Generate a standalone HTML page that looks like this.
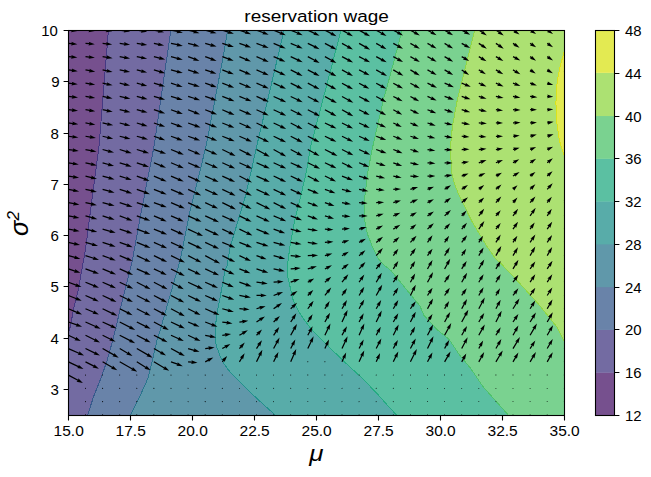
<!DOCTYPE html>
<html><head><meta charset="utf-8"><style>html,body{margin:0;padding:0;background:#fff;overflow:hidden}svg{display:block}</style></head><body>
<svg width="651" height="477" viewBox="0 0 651 477">
<defs><clipPath id="ax"><rect x="68.40" y="30.40" width="495.90" height="384.80"/></clipPath></defs>
<rect width="651" height="477" fill="#fff"/>
<g clip-path="url(#ax)">
<rect x="68.40" y="30.40" width="495.90" height="384.80" fill="#76508e"/>
<polygon points="108.40,30.40 104.40,80.00 100.00,134.00 99.00,146.00 90.60,210.00 85.40,250.00 83.60,260.00 78.20,290.00 75.50,300.50 73.20,311.00 71.30,321.50 69.50,330.00 68.40,333.00 68.40,415.20 564.30,415.20 564.30,30.40" fill="#736ba2"/>
<polygon points="170.80,30.40 154.10,146.00 141.60,210.00 132.40,260.00 115.20,330.00 112.80,340.00 107.30,360.00 100.90,378.40 93.50,396.90 87.60,415.20 564.30,415.20 564.30,30.40" fill="#6983a9"/>
<polygon points="227.50,30.40 224.30,51.00 206.10,146.00 190.30,210.00 180.20,260.00 160.30,330.00 157.10,340.00 152.50,360.00 147.90,378.40 139.60,396.90 130.40,415.20 564.30,415.20 564.30,30.40" fill="#6098aa"/>
<polygon points="284.00,30.40 270.50,88.00 256.70,146.00 251.20,171.20 245.40,196.30 237.80,221.50 230.30,246.60 227.00,266.00 225.20,270.00 222.70,283.40 220.20,296.90 217.50,311.00 215.80,323.00 215.20,335.00 215.60,342.00 216.90,347.30 219.80,355.30 223.80,363.40 228.40,370.00 233.80,376.00 249.20,391.40 266.00,406.80 275.50,415.20 564.30,415.20 564.30,30.40" fill="#58aca9"/>
<polygon points="341.00,30.40 310.80,146.00 306.50,171.20 300.70,196.30 294.40,221.50 289.90,246.60 287.40,266.00 287.80,277.00 293.20,300.30 299.50,312.90 308.30,325.50 316.00,334.00 327.00,345.00 344.60,362.00 359.80,376.00 375.10,391.40 388.90,406.80 396.60,415.20 564.30,415.20 564.30,30.40" fill="#5bc0a2"/>
<polygon points="402.10,30.40 396.60,51.20 386.50,88.90 384.00,97.00 372.90,146.00 367.90,171.20 364.90,196.30 364.90,221.50 367.40,234.00 372.40,246.60 378.70,259.20 384.00,265.00 391.00,270.60 420.00,306.00 424.00,315.50 437.50,330.00 448.90,339.20 459.50,355.00 470.40,368.00 482.90,386.50 508.40,415.20 564.30,415.20 564.30,30.40" fill="#7ad290"/>
<polygon points="474.60,30.40 469.50,51.20 463.20,76.30 457.00,101.50 452.40,126.60 450.50,146.00 451.40,171.20 454.40,183.70 459.50,196.30 465.80,208.90 472.00,221.50 479.60,234.00 487.10,246.60 496.00,259.20 499.50,262.00 519.10,282.60 539.50,305.30 557.60,327.90 564.30,341.50 564.30,30.40" fill="#ace172"/>
<polygon points="564.30,50.90 560.00,67.20 557.20,80.80 555.90,102.60 556.70,121.60 559.40,140.70 564.30,155.60" fill="#e3ea52"/>
<polyline points="108.40,30.40 104.40,80.00 100.00,134.00 99.00,146.00 90.60,210.00 85.40,250.00 83.60,260.00 78.20,290.00 75.50,300.50 73.20,311.00 71.30,321.50 69.50,330.00 68.40,333.00" fill="none" stroke="#443983" stroke-width="1.0" shape-rendering="crispEdges"/>
<polyline points="170.80,30.40 154.10,146.00 141.60,210.00 132.40,260.00 115.20,330.00 112.80,340.00 107.30,360.00 100.90,378.40 93.50,396.90 87.60,415.20" fill="none" stroke="#375a8c" stroke-width="1.0" shape-rendering="crispEdges"/>
<polyline points="227.50,30.40 224.30,51.00 206.10,146.00 190.30,210.00 180.20,260.00 160.30,330.00 157.10,340.00 152.50,360.00 147.90,378.40 139.60,396.90 130.40,415.20" fill="none" stroke="#2b758e" stroke-width="1.0" shape-rendering="crispEdges"/>
<polyline points="284.00,30.40 270.50,88.00 256.70,146.00 251.20,171.20 245.40,196.30 237.80,221.50 230.30,246.60 227.00,266.00 225.20,270.00 222.70,283.40 220.20,296.90 217.50,311.00 215.80,323.00 215.20,335.00 215.60,342.00 216.90,347.30 219.80,355.30 223.80,363.40 228.40,370.00 233.80,376.00 249.20,391.40 266.00,406.80 275.50,415.20" fill="none" stroke="#21918c" stroke-width="1.0" shape-rendering="crispEdges"/>
<polyline points="341.00,30.40 310.80,146.00 306.50,171.20 300.70,196.30 294.40,221.50 289.90,246.60 287.40,266.00 287.80,277.00 293.20,300.30 299.50,312.90 308.30,325.50 316.00,334.00 327.00,345.00 344.60,362.00 359.80,376.00 375.10,391.40 388.90,406.80 396.60,415.20" fill="none" stroke="#25ab82" stroke-width="1.0" shape-rendering="crispEdges"/>
<polyline points="402.10,30.40 396.60,51.20 386.50,88.90 384.00,97.00 372.90,146.00 367.90,171.20 364.90,196.30 364.90,221.50 367.40,234.00 372.40,246.60 378.70,259.20 384.00,265.00 391.00,270.60 420.00,306.00 424.00,315.50 437.50,330.00 448.90,339.20 459.50,355.00 470.40,368.00 482.90,386.50 508.40,415.20" fill="none" stroke="#4ec36b" stroke-width="1.0" shape-rendering="crispEdges"/>
<polyline points="474.60,30.40 469.50,51.20 463.20,76.30 457.00,101.50 452.40,126.60 450.50,146.00 451.40,171.20 454.40,183.70 459.50,196.30 465.80,208.90 472.00,221.50 479.60,234.00 487.10,246.60 496.00,259.20 499.50,262.00 519.10,282.60 539.50,305.30 557.60,327.90 564.30,341.50" fill="none" stroke="#90d743" stroke-width="1.0" shape-rendering="crispEdges"/>
<polyline points="564.30,50.90 560.00,67.20 557.20,80.80 555.90,102.60 556.70,121.60 559.40,140.70 564.30,155.60" fill="none" stroke="#dae319" stroke-width="1.0" shape-rendering="crispEdges"/>
<g fill="#000"><polygon points="68.46,29.48 71.83,29.81 71.33,28.50 77.37,30.98 70.97,32.24 71.71,31.05 68.34,30.72 68.46,29.48"/><polygon points="85.55,29.48 89.26,29.80 88.75,28.50 94.81,30.91 88.42,32.24 89.15,31.05 85.45,30.72 85.55,29.48"/><polygon points="102.67,29.48 106.70,29.94 106.22,28.63 112.22,31.20 105.80,32.35 106.56,31.18 102.53,30.72 102.67,29.48"/><polygon points="119.79,29.48 124.58,30.16 124.14,28.83 130.07,31.56 123.62,32.54 124.41,31.39 119.61,30.72 119.79,29.48"/><polygon points="136.90,29.48 141.79,30.30 141.38,28.97 147.23,31.85 140.76,32.66 141.58,31.53 136.70,30.72 136.90,29.48"/><polygon points="154.03,29.49 158.77,30.50 158.42,29.14 164.14,32.28 157.64,32.81 158.51,31.72 153.77,30.71 154.03,29.49"/><polygon points="171.13,29.49 177.51,30.84 177.16,29.49 182.88,32.63 176.38,33.16 177.25,32.07 170.87,30.71 171.13,29.49"/><polygon points="188.26,29.50 194.24,31.10 193.96,29.73 199.51,33.16 192.99,33.35 193.91,32.31 187.94,30.70 188.26,29.50"/><polygon points="205.37,29.50 211.32,31.20 211.06,29.83 216.55,33.36 210.03,33.44 210.98,32.41 205.03,30.70 205.37,29.50"/><polygon points="222.49,29.50 228.71,31.47 228.49,30.09 233.89,33.75 227.36,33.66 228.33,32.66 222.11,30.70 222.49,29.50"/><polygon points="239.60,29.51 245.98,31.71 245.80,30.32 251.10,34.13 244.58,33.87 245.58,32.89 239.20,30.69 239.60,29.51"/><polygon points="256.72,29.52 263.65,32.18 263.51,30.78 268.68,34.77 262.17,34.29 263.20,33.34 256.28,30.68 256.72,29.52"/><polygon points="273.84,29.52 280.88,32.51 280.79,31.12 285.81,35.28 279.33,34.57 280.39,33.66 273.36,30.68 273.84,29.52"/><polygon points="290.94,29.52 297.77,32.42 297.69,31.03 302.71,35.20 296.22,34.48 297.29,33.57 290.46,30.68 290.94,29.52"/><polygon points="308.07,29.54 314.84,32.84 314.83,31.44 319.62,35.87 313.19,34.81 314.29,33.96 307.53,30.66 308.07,29.54"/><polygon points="325.19,29.55 331.84,33.08 331.88,31.69 336.52,36.28 330.12,35.00 331.26,34.19 324.61,30.65 325.19,29.55"/><polygon points="342.31,29.56 348.37,33.00 348.44,31.60 352.95,36.32 346.59,34.86 347.75,34.09 341.69,30.64 342.31,29.56"/><polygon points="359.41,29.56 365.57,33.04 365.64,31.65 370.16,36.36 363.80,34.91 364.96,34.13 358.79,30.64 359.41,29.56"/><polygon points="376.51,29.56 381.97,32.71 382.05,31.31 386.53,36.06 380.18,34.56 381.34,33.79 375.89,30.64 376.51,29.56"/><polygon points="393.60,29.55 398.43,32.23 398.49,30.83 403.04,35.50 396.67,34.11 397.82,33.32 393.00,30.65 393.60,29.55"/><polygon points="410.71,29.56 415.29,32.20 415.38,30.81 419.85,35.56 413.50,34.06 414.67,33.29 410.09,30.64 410.71,29.56"/><polygon points="427.81,29.56 432.01,31.98 432.09,30.59 436.57,35.33 430.22,33.83 431.38,33.06 427.19,30.64 427.81,29.56"/><polygon points="444.93,29.57 448.67,31.87 448.79,30.48 453.13,35.35 446.83,33.67 448.02,32.94 444.27,30.63 444.93,29.57"/><polygon points="462.00,29.55 465.55,31.52 465.61,30.12 470.17,34.79 463.79,33.40 464.95,32.61 461.40,30.65 462.00,29.55"/><polygon points="479.14,29.58 482.53,31.82 482.70,30.43 486.88,35.44 480.63,33.56 481.84,32.86 478.46,30.62 479.14,29.58"/><polygon points="496.25,29.58 499.43,31.73 499.61,30.34 503.74,35.39 497.51,33.45 498.73,32.76 495.55,30.62 496.25,29.58"/><polygon points="513.35,29.58 515.23,30.85 515.41,29.46 519.54,34.51 513.31,32.57 514.53,31.89 512.65,30.62 513.35,29.58"/><polygon points="530.44,29.58 531.78,30.44 531.93,29.06 536.16,34.03 529.89,32.20 531.10,31.49 529.76,30.62 530.44,29.58"/><polygon points="547.54,29.58 548.69,30.32 548.85,28.93 553.07,33.91 546.80,32.08 548.01,31.37 546.86,30.62 547.54,29.58"/><polygon points="564.64,29.58 565.79,30.32 565.95,28.93 570.17,33.91 563.90,32.08 565.11,31.37 563.96,30.62 564.64,29.58"/><polygon points="68.46,42.75 71.83,43.08 71.33,41.77 77.37,44.25 70.97,45.50 71.71,44.32 68.34,43.99 68.46,42.75"/><polygon points="85.55,42.75 89.26,43.07 88.75,41.77 94.81,44.18 88.42,45.51 89.15,44.32 85.45,43.99 85.55,42.75"/><polygon points="102.67,42.75 106.70,43.21 106.22,41.89 112.22,44.47 105.80,45.62 106.56,44.45 102.53,43.99 102.67,42.75"/><polygon points="119.79,42.75 124.58,43.42 124.14,42.10 130.07,44.83 123.62,45.81 124.41,44.66 119.61,43.99 119.79,42.75"/><polygon points="136.90,42.75 141.79,43.57 141.38,42.23 147.23,45.12 140.76,45.93 141.58,44.80 136.70,43.99 136.90,42.75"/><polygon points="154.03,42.76 158.77,43.76 158.42,42.41 164.14,45.55 157.64,46.08 158.51,44.99 153.77,43.98 154.03,42.76"/><polygon points="171.13,42.76 177.51,44.11 177.16,42.76 182.88,45.89 176.38,46.43 177.25,45.34 170.87,43.98 171.13,42.76"/><polygon points="188.26,42.77 194.24,44.37 193.96,43.00 199.51,46.43 192.99,46.62 193.91,45.57 187.94,43.97 188.26,42.77"/><polygon points="205.37,42.77 211.32,44.47 211.06,43.10 216.55,46.62 210.03,46.70 210.98,45.68 205.03,43.97 205.37,42.77"/><polygon points="222.49,42.77 228.71,44.73 228.49,43.35 233.89,47.02 227.36,46.93 228.33,45.93 222.11,43.97 222.49,42.77"/><polygon points="239.60,42.78 245.98,44.97 245.80,43.59 251.10,47.40 244.58,47.13 245.58,46.16 239.20,43.96 239.60,42.78"/><polygon points="256.72,42.79 263.65,45.44 263.51,44.05 268.68,48.04 262.17,47.55 263.20,46.61 256.28,43.95 256.72,42.79"/><polygon points="273.84,42.79 280.88,45.78 280.79,44.39 285.81,48.55 279.33,47.84 280.39,46.93 273.36,43.94 273.84,42.79"/><polygon points="290.94,42.79 297.77,45.69 297.69,44.30 302.71,48.47 296.22,47.75 297.29,46.84 290.46,43.94 290.94,42.79"/><polygon points="308.07,42.81 314.84,46.11 314.83,44.71 319.62,49.14 313.19,48.08 314.29,47.23 307.53,43.93 308.07,42.81"/><polygon points="325.19,42.82 331.84,46.35 331.88,44.96 336.52,49.55 330.12,48.27 331.26,47.46 324.61,43.92 325.19,42.82"/><polygon points="342.31,42.83 348.37,46.27 348.44,44.87 352.95,49.59 346.59,48.13 347.75,47.36 341.69,43.91 342.31,42.83"/><polygon points="359.41,42.82 365.57,46.31 365.64,44.92 370.16,49.63 363.80,48.18 364.96,47.40 358.79,43.91 359.41,42.82"/><polygon points="376.51,42.83 381.97,45.98 382.05,44.58 386.53,49.33 380.18,47.83 381.34,47.06 375.89,43.91 376.51,42.83"/><polygon points="393.60,42.82 398.43,45.50 398.49,44.10 403.04,48.77 396.67,47.38 397.82,46.59 393.00,43.92 393.60,42.82"/><polygon points="410.71,42.83 415.29,45.47 415.38,44.08 419.85,48.83 413.50,47.33 414.67,46.56 410.09,43.91 410.71,42.83"/><polygon points="427.81,42.83 432.01,45.25 432.09,43.85 436.57,48.60 430.22,47.10 431.38,46.33 427.19,43.91 427.81,42.83"/><polygon points="444.93,42.84 448.67,45.14 448.79,43.75 453.13,48.62 446.83,46.94 448.02,46.20 444.27,43.90 444.93,42.84"/><polygon points="462.00,42.82 465.55,44.79 465.61,43.39 470.17,48.06 463.79,46.67 464.95,45.88 461.40,43.92 462.00,42.82"/><polygon points="479.14,42.85 482.53,45.09 482.70,43.70 486.88,48.71 480.63,46.83 481.84,46.13 478.46,43.89 479.14,42.85"/><polygon points="496.25,42.85 499.43,45.00 499.61,43.61 503.74,48.66 497.51,46.72 498.73,46.03 495.55,43.89 496.25,42.85"/><polygon points="513.35,42.85 515.23,44.12 515.41,42.73 519.54,47.78 513.31,45.84 514.53,45.15 512.65,43.89 513.35,42.85"/><polygon points="530.44,42.84 531.78,43.71 531.93,42.32 536.16,47.30 529.89,45.47 531.10,44.76 529.76,43.89 530.44,42.84"/><polygon points="547.54,42.84 548.69,43.59 548.85,42.20 553.07,47.18 546.80,45.35 548.01,44.64 546.86,43.89 547.54,42.84"/><polygon points="564.64,42.84 565.79,43.59 565.95,42.20 570.17,47.18 563.90,45.35 565.11,44.64 563.96,43.89 564.64,42.84"/><polygon points="68.46,56.02 71.83,56.35 71.33,55.04 77.37,57.52 70.97,58.77 71.71,57.59 68.34,57.26 68.46,56.02"/><polygon points="85.57,56.02 89.38,56.46 88.90,55.14 94.90,57.73 88.47,58.87 89.24,57.70 85.43,57.26 85.57,56.02"/><polygon points="102.69,56.02 107.15,56.70 106.72,55.37 112.62,58.17 106.15,59.08 106.96,57.94 102.51,57.26 102.69,56.02"/><polygon points="119.81,56.02 124.69,56.94 124.30,55.59 130.10,58.58 123.61,59.28 124.46,58.16 119.59,57.25 119.81,56.02"/><polygon points="136.93,56.03 141.78,57.04 141.42,55.69 147.16,58.80 140.66,59.36 141.52,58.26 136.67,57.25 136.93,56.03"/><polygon points="154.05,56.03 159.84,57.47 159.53,56.11 165.14,59.44 158.63,59.75 159.53,58.69 153.75,57.24 154.05,56.03"/><polygon points="171.16,56.03 177.57,57.75 177.29,56.38 182.84,59.81 176.32,60.00 177.25,58.96 170.84,57.24 171.16,56.03"/><polygon points="188.32,56.05 194.42,58.36 194.28,56.97 199.46,60.93 192.95,60.48 193.98,59.53 187.88,57.22 188.32,56.05"/><polygon points="205.42,56.05 211.52,58.36 211.38,56.97 216.56,60.93 210.05,60.48 211.08,59.53 204.98,57.22 205.42,56.05"/><polygon points="222.51,56.05 228.64,58.28 228.48,56.89 233.72,60.79 227.20,60.42 228.22,59.46 222.09,57.23 222.51,56.05"/><polygon points="239.64,56.06 246.06,58.79 245.97,57.39 250.99,61.56 244.51,60.84 245.57,59.94 239.16,57.21 239.64,56.06"/><polygon points="256.75,56.07 263.85,59.18 263.78,57.79 268.75,62.02 262.28,61.22 263.35,60.33 256.25,57.21 256.75,56.07"/><polygon points="273.84,56.06 280.47,58.87 280.38,57.48 285.40,61.65 278.92,60.93 279.98,60.02 273.36,57.21 273.84,56.06"/><polygon points="290.96,56.07 297.89,59.30 297.85,57.90 302.72,62.25 296.27,61.30 297.36,60.43 290.44,57.20 290.96,56.07"/><polygon points="308.09,56.09 314.94,59.73 314.98,58.33 319.61,62.92 313.22,61.64 314.35,60.83 307.51,57.19 308.09,56.09"/><polygon points="325.20,56.09 331.79,59.74 331.85,58.35 336.41,63.02 330.03,61.63 331.18,60.84 324.60,57.18 325.20,56.09"/><polygon points="342.29,56.09 348.45,59.36 348.48,57.96 353.12,62.55 346.72,61.27 347.86,60.46 341.71,57.19 342.29,56.09"/><polygon points="359.39,56.08 365.37,59.20 365.40,57.80 370.07,62.35 363.66,61.13 364.80,60.31 358.81,57.19 359.39,56.08"/><polygon points="376.50,56.09 382.03,59.09 382.08,57.70 386.68,62.33 380.29,60.99 381.44,60.19 375.90,57.19 376.50,56.09"/><polygon points="393.60,56.09 398.43,58.77 398.49,57.37 403.04,62.04 396.67,60.65 397.82,59.86 393.00,57.18 393.60,56.09"/><polygon points="410.71,56.10 415.29,58.74 415.38,57.35 419.85,62.10 413.50,60.59 414.67,59.82 410.09,57.18 410.71,56.10"/><polygon points="427.80,56.09 432.04,58.44 432.10,57.04 436.66,61.71 430.28,60.32 431.43,59.53 427.20,57.18 427.80,56.09"/><polygon points="444.92,56.10 448.70,58.33 448.80,56.94 453.23,61.72 446.90,60.17 448.07,59.41 444.28,57.18 444.92,56.10"/><polygon points="462.01,56.10 464.65,57.62 464.74,56.23 469.21,60.98 462.86,59.47 464.03,58.70 461.39,57.18 462.01,56.10"/><polygon points="479.12,56.10 482.03,57.85 482.13,56.45 486.52,61.28 480.20,59.67 481.38,58.92 478.48,57.17 479.12,56.10"/><polygon points="496.21,56.10 498.85,57.62 498.94,56.23 503.41,60.98 497.06,59.47 498.23,58.70 495.59,57.18 496.21,56.10"/><polygon points="513.29,56.09 515.69,57.36 515.73,55.96 520.36,60.55 513.97,59.27 515.10,58.46 512.71,57.19 513.29,56.09"/><polygon points="530.45,56.12 531.77,57.01 531.95,55.63 536.09,60.68 529.86,58.73 531.07,58.05 529.75,57.16 530.45,56.12"/><polygon points="547.54,56.11 548.69,56.86 548.85,55.47 553.07,60.45 546.80,58.62 548.01,57.91 546.86,57.16 547.54,56.11"/><polygon points="564.64,56.11 565.79,56.86 565.95,55.47 570.17,60.45 563.90,58.62 565.11,57.91 563.96,57.16 564.64,56.11"/><polygon points="68.49,69.29 72.28,69.82 71.84,68.50 77.77,71.22 71.32,72.21 72.11,71.06 68.31,70.53 68.49,69.29"/><polygon points="85.61,69.29 89.83,70.04 89.43,68.70 95.26,71.63 88.78,72.39 89.61,71.27 85.39,70.52 85.61,69.29"/><polygon points="102.73,69.30 107.25,70.26 106.90,68.90 112.62,72.04 106.12,72.57 106.99,71.48 102.47,70.52 102.73,69.30"/><polygon points="119.83,69.30 124.68,70.31 124.32,68.96 130.06,72.07 123.56,72.63 124.42,71.53 119.57,70.52 119.83,69.30"/><polygon points="136.95,69.30 141.87,70.53 141.56,69.16 147.17,72.49 140.66,72.80 141.57,71.74 136.65,70.51 136.95,69.30"/><polygon points="154.07,69.31 159.91,70.98 159.66,69.61 165.15,73.13 158.62,73.21 159.57,72.18 153.73,70.51 154.07,69.31"/><polygon points="171.16,69.30 177.57,71.02 177.29,69.65 182.84,73.08 176.32,73.27 177.25,72.23 170.84,70.51 171.16,69.30"/><polygon points="188.29,69.31 194.29,71.24 194.08,69.86 199.45,73.55 192.93,73.43 193.91,72.43 187.91,70.50 188.29,69.31"/><polygon points="205.40,69.32 211.36,71.35 211.18,69.96 216.49,73.75 209.97,73.51 210.96,72.53 205.00,70.50 205.40,69.32"/><polygon points="222.52,69.32 228.82,71.74 228.69,70.35 233.85,74.34 227.34,73.85 228.37,72.91 222.08,70.49 222.52,69.32"/><polygon points="239.64,69.33 246.16,72.10 246.08,70.70 251.10,74.87 244.61,74.16 245.68,73.25 239.16,70.48 239.64,69.33"/><polygon points="256.75,69.33 263.85,72.45 263.78,71.06 268.75,75.28 262.28,74.49 263.35,73.60 256.25,70.48 256.75,69.33"/><polygon points="273.86,69.34 280.92,72.55 280.87,71.16 285.78,75.46 279.31,74.57 280.40,73.69 273.34,70.48 273.86,69.34"/><polygon points="290.98,69.35 297.91,72.82 297.91,71.42 302.66,75.90 296.24,74.78 297.35,73.94 290.42,70.47 290.98,69.35"/><polygon points="308.08,69.35 314.89,72.82 314.90,71.42 319.62,75.93 313.20,74.76 314.33,73.93 307.52,70.46 308.08,69.35"/><polygon points="325.20,69.36 331.79,73.01 331.85,71.62 336.41,76.29 330.03,74.89 331.18,74.10 324.60,70.45 325.20,69.36"/><polygon points="342.30,69.36 348.40,72.74 348.46,71.34 353.02,76.01 346.64,74.62 347.79,73.83 341.70,70.45 342.30,69.36"/><polygon points="359.39,69.35 364.88,72.21 364.90,70.81 369.58,75.36 363.17,74.14 364.30,73.32 358.81,70.46 359.39,69.35"/><polygon points="376.50,69.36 382.40,72.63 382.46,71.23 387.02,75.90 380.65,74.51 381.80,73.72 375.90,70.45 376.50,69.36"/><polygon points="393.62,69.37 398.85,72.45 398.95,71.06 403.38,75.85 397.04,74.29 398.22,73.53 392.98,70.45 393.62,69.37"/><polygon points="410.72,69.37 415.27,72.06 415.37,70.67 419.80,75.46 413.46,73.90 414.64,73.14 410.08,70.44 410.72,69.37"/><polygon points="427.80,69.36 432.04,71.71 432.10,70.31 436.66,74.98 430.28,73.59 431.43,72.80 427.20,70.45 427.80,69.36"/><polygon points="444.92,69.37 448.70,71.60 448.80,70.20 453.23,74.99 446.90,73.44 448.07,72.68 444.28,70.45 444.92,69.37"/><polygon points="462.05,69.39 464.86,71.28 465.04,69.90 469.17,74.95 462.94,73.01 464.16,72.32 461.35,70.43 462.05,69.39"/><polygon points="479.12,69.37 481.45,70.77 481.56,69.38 485.95,74.20 479.63,72.59 480.81,71.84 478.48,70.44 479.12,69.37"/><polygon points="496.21,69.37 498.76,70.84 498.84,69.44 503.32,74.19 496.97,72.69 498.13,71.92 495.59,70.45 496.21,69.37"/><polygon points="513.32,69.37 515.84,70.88 515.95,69.49 520.34,74.32 514.02,72.71 515.20,71.96 512.68,70.44 513.32,69.37"/><polygon points="530.44,69.38 531.31,69.95 531.47,68.56 535.69,73.53 529.42,71.70 530.63,70.99 529.76,70.43 530.44,69.38"/><polygon points="547.51,69.37 548.31,69.83 548.40,68.43 552.87,73.18 546.52,71.68 547.69,70.91 546.89,70.45 547.51,69.37"/><polygon points="564.61,69.37 565.41,69.83 565.50,68.43 569.97,73.18 563.62,71.68 564.79,70.91 563.99,70.45 564.61,69.37"/><polygon points="68.47,82.56 72.28,83.00 71.80,81.68 77.80,84.26 71.37,85.41 72.14,84.24 68.33,83.80 68.47,82.56"/><polygon points="85.60,82.56 89.83,83.23 89.41,81.90 95.29,84.73 88.82,85.60 89.63,84.46 85.40,83.79 85.60,82.56"/><polygon points="102.73,82.56 107.25,83.52 106.90,82.17 112.62,85.31 106.12,85.84 106.99,84.75 102.47,83.79 102.73,82.56"/><polygon points="119.84,82.57 124.67,83.68 124.34,82.32 130.01,85.56 123.50,85.98 124.39,84.90 119.56,83.78 119.84,82.57"/><polygon points="136.96,82.57 141.96,83.91 141.68,82.54 147.24,85.97 140.71,86.17 141.64,85.12 136.64,83.78 136.96,82.57"/><polygon points="154.08,82.58 159.89,84.35 159.66,82.98 165.09,86.60 158.56,86.56 159.53,85.55 153.72,83.77 154.08,82.58"/><polygon points="171.19,82.58 177.50,84.63 177.30,83.25 182.66,86.96 176.14,86.82 177.12,85.82 170.81,83.77 171.19,82.58"/><polygon points="188.29,82.58 194.62,84.56 194.40,83.18 199.80,86.84 193.27,86.76 194.24,85.76 187.91,83.77 188.29,82.58"/><polygon points="205.40,82.58 211.63,84.72 211.44,83.33 216.75,87.13 210.23,86.88 211.22,85.90 205.00,83.77 205.40,82.58"/><polygon points="222.52,82.59 229.19,85.15 229.05,83.76 234.22,87.75 227.71,87.26 228.74,86.32 222.08,83.76 222.52,82.59"/><polygon points="239.64,82.60 246.39,85.39 246.29,84.00 251.35,88.12 244.86,87.47 245.91,86.55 239.16,83.75 239.64,82.60"/><polygon points="256.75,82.60 263.85,85.72 263.78,84.32 268.75,88.55 262.28,87.76 263.35,86.87 256.25,83.75 256.75,82.60"/><polygon points="273.86,82.61 281.17,85.95 281.12,84.55 286.03,88.85 279.56,87.96 280.65,87.08 273.34,83.74 273.86,82.61"/><polygon points="290.98,82.61 297.89,86.01 297.88,84.61 302.66,89.05 296.22,87.98 297.34,87.13 290.42,83.74 290.98,82.61"/><polygon points="308.09,82.62 314.87,86.15 314.89,84.75 319.57,89.30 313.16,88.08 314.29,87.26 307.51,83.73 308.09,82.62"/><polygon points="325.20,82.63 331.89,86.33 331.95,84.94 336.50,89.61 330.13,88.22 331.28,87.43 324.60,83.72 325.20,82.63"/><polygon points="342.30,82.63 348.50,86.06 348.56,84.67 353.11,89.34 346.74,87.95 347.89,87.16 341.70,83.72 342.30,82.63"/><polygon points="359.40,82.63 364.72,85.57 364.78,84.18 369.33,88.85 362.96,87.46 364.11,86.67 358.80,83.72 359.40,82.63"/><polygon points="376.50,82.63 381.82,85.57 381.88,84.18 386.43,88.85 380.06,87.46 381.21,86.67 375.90,83.72 376.50,82.63"/><polygon points="393.60,82.63 398.43,85.30 398.49,83.91 403.04,88.58 396.67,87.19 397.82,86.40 393.00,83.72 393.60,82.63"/><polygon points="410.70,82.63 415.33,85.19 415.39,83.80 419.95,88.47 413.57,87.08 414.72,86.29 410.10,83.72 410.70,82.63"/><polygon points="427.77,82.61 432.18,84.76 432.16,83.36 436.96,87.79 430.52,86.73 431.63,85.89 427.23,83.74 427.77,82.61"/><polygon points="444.84,82.60 448.99,84.36 448.91,82.97 453.93,87.13 447.44,86.42 448.50,85.51 444.36,83.75 444.84,82.60"/><polygon points="461.93,82.60 465.80,84.16 465.69,82.77 470.78,86.85 464.29,86.24 465.33,85.32 461.47,83.76 461.93,82.60"/><polygon points="479.04,82.60 481.54,83.66 481.46,82.27 486.48,86.43 479.99,85.72 481.05,84.81 478.56,83.75 479.04,82.60"/><polygon points="496.14,82.60 498.64,83.66 498.56,82.27 503.58,86.43 497.09,85.72 498.15,84.81 495.66,83.75 496.14,82.60"/><polygon points="513.22,82.59 515.44,83.44 515.31,82.05 520.47,86.04 513.97,85.55 515.00,84.61 512.78,83.76 513.22,82.59"/><polygon points="530.29,82.58 531.81,83.07 531.60,81.69 536.97,85.41 530.44,85.26 531.42,84.26 529.91,83.77 530.29,82.58"/><polygon points="547.37,82.58 548.04,82.77 547.79,81.39 553.28,84.92 546.75,85.00 547.70,83.97 547.03,83.78 547.37,82.58"/><polygon points="564.47,82.58 565.14,82.77 564.89,81.39 570.38,84.92 563.85,85.00 564.80,83.97 564.13,83.78 564.47,82.58"/><polygon points="68.47,95.82 72.50,96.28 72.02,94.97 78.02,97.54 71.60,98.70 72.36,97.53 68.33,97.07 68.47,95.82"/><polygon points="85.60,95.83 89.83,96.50 89.41,95.17 95.29,97.99 88.82,98.87 89.63,97.73 85.40,97.06 85.60,95.83"/><polygon points="102.72,95.83 107.14,96.69 106.77,95.34 112.55,98.38 106.05,99.03 106.90,97.92 102.48,97.06 102.72,95.83"/><polygon points="119.83,95.83 125.11,96.99 124.77,95.64 130.47,98.81 123.96,99.30 124.84,98.22 119.57,97.06 119.83,95.83"/><polygon points="136.96,95.84 142.29,97.23 142.00,95.86 147.58,99.25 141.06,99.49 141.98,98.44 136.64,97.05 136.96,95.84"/><polygon points="154.07,95.84 159.91,97.52 159.66,96.14 165.15,99.67 158.62,99.75 159.57,98.72 153.73,97.05 154.07,95.84"/><polygon points="171.18,95.85 177.63,97.82 177.40,96.44 182.83,100.06 176.31,100.03 177.27,99.02 170.82,97.04 171.18,95.85"/><polygon points="188.28,95.85 194.95,97.89 194.72,96.51 200.15,100.13 193.62,100.09 194.58,99.08 187.92,97.04 188.28,95.85"/><polygon points="205.40,95.85 211.89,98.09 211.70,96.70 217.00,100.51 210.48,100.25 211.48,99.27 205.00,97.04 205.40,95.85"/><polygon points="222.52,95.86 229.55,98.56 229.42,97.17 234.58,101.16 228.08,100.67 229.11,99.73 222.08,97.03 222.52,95.86"/><polygon points="239.63,95.87 246.62,98.69 246.51,97.29 251.60,101.37 245.10,100.77 246.15,99.85 239.17,97.02 239.63,95.87"/><polygon points="256.75,95.87 263.85,98.99 263.78,97.59 268.75,101.82 262.28,101.03 263.35,100.13 256.25,97.02 256.75,95.87"/><polygon points="273.86,95.88 281.42,99.34 281.37,97.94 286.27,102.25 279.81,101.35 280.90,100.47 273.34,97.01 273.86,95.88"/><polygon points="290.97,95.88 297.86,99.20 297.84,97.80 302.66,102.20 296.21,101.18 297.32,100.32 290.43,97.01 290.97,95.88"/><polygon points="308.09,95.89 314.74,99.43 314.78,98.03 319.42,102.62 313.02,101.34 314.16,100.53 307.51,97.00 308.09,95.89"/><polygon points="325.20,95.90 332.28,99.82 332.34,98.42 336.90,103.09 330.52,101.70 331.67,100.91 324.60,96.99 325.20,95.90"/><polygon points="342.30,95.90 348.71,99.41 348.76,98.01 353.34,102.66 346.96,101.30 348.11,100.50 341.70,96.99 342.30,95.90"/><polygon points="359.39,95.89 365.35,99.06 365.39,97.66 370.02,102.25 363.63,100.97 364.76,100.16 358.81,97.00 359.39,95.89"/><polygon points="376.50,95.90 381.91,98.90 381.97,97.50 386.53,102.17 380.16,100.78 381.31,99.99 375.90,96.99 376.50,95.90"/><polygon points="393.58,95.89 397.90,98.09 397.91,96.69 402.63,101.20 396.21,100.03 397.33,99.20 393.02,97.00 393.58,95.89"/><polygon points="410.70,95.90 414.64,98.08 414.70,96.69 419.26,101.36 412.89,99.97 414.04,99.18 410.10,96.99 410.70,95.90"/><polygon points="427.75,95.87 431.77,97.66 431.71,96.27 436.65,100.52 430.18,99.69 431.26,98.80 427.25,97.02 427.75,95.87"/><polygon points="444.80,95.85 448.85,97.25 448.67,95.86 453.97,99.67 447.45,99.41 448.45,98.43 444.40,97.04 444.80,95.85"/><polygon points="461.89,95.85 465.33,96.97 465.12,95.58 470.48,99.30 463.96,99.15 464.94,98.16 461.51,97.04 461.89,95.85"/><polygon points="478.97,95.84 481.37,96.53 481.11,95.16 486.60,98.68 480.08,98.76 481.02,97.73 478.63,97.05 478.97,95.84"/><polygon points="496.02,95.83 498.24,96.26 497.87,94.92 503.65,97.95 497.15,98.60 498.01,97.49 495.78,97.06 496.02,95.83"/><polygon points="513.11,95.83 515.01,96.16 514.61,94.83 520.44,97.76 513.96,98.52 514.79,97.40 512.89,97.06 513.11,95.83"/><polygon points="530.18,95.82 531.87,96.03 531.40,94.72 537.38,97.34 530.95,98.44 531.72,97.27 530.02,97.07 530.18,95.82"/><polygon points="547.24,95.84 547.85,95.88 547.33,94.62 553.29,96.87 547.07,98.27 547.77,97.10 547.16,97.05 547.24,95.84"/><polygon points="564.34,95.84 564.95,95.88 564.43,94.62 570.39,96.87 564.17,98.27 564.87,97.10 564.26,97.05 564.34,95.84"/><polygon points="68.47,109.09 72.50,109.55 72.02,108.24 78.02,110.81 71.60,111.97 72.36,110.79 68.33,110.33 68.47,109.09"/><polygon points="85.60,109.10 89.83,109.77 89.41,108.43 95.29,111.26 88.82,112.14 89.63,111.00 85.40,110.33 85.60,109.10"/><polygon points="102.73,109.10 107.36,110.09 107.01,108.73 112.73,111.87 106.23,112.40 107.10,111.31 102.47,110.33 102.73,109.10"/><polygon points="119.85,109.11 125.10,110.37 124.78,109.01 130.42,112.29 123.91,112.65 124.81,111.58 119.55,110.32 119.85,109.11"/><polygon points="136.96,109.11 142.29,110.50 142.00,109.13 147.58,112.52 141.06,112.76 141.98,111.71 136.64,110.32 136.96,109.11"/><polygon points="154.09,109.12 160.08,111.07 159.88,109.68 165.24,113.40 158.72,113.25 159.70,112.25 153.71,110.31 154.09,109.12"/><polygon points="171.21,109.13 177.76,111.51 177.60,110.12 182.84,114.02 176.32,113.65 177.34,112.69 170.79,110.30 171.21,109.13"/><polygon points="188.33,109.13 195.11,111.87 195.00,110.48 200.09,114.56 193.59,113.96 194.64,113.03 187.87,110.29 188.33,109.13"/><polygon points="205.43,109.13 212.11,111.83 211.99,110.44 217.09,114.52 210.59,113.91 211.64,112.99 204.97,110.29 205.43,109.13"/><polygon points="222.55,109.14 229.65,112.26 229.58,110.86 234.55,115.09 228.08,114.30 229.15,113.40 222.05,110.29 222.55,109.14"/><polygon points="239.65,109.14 246.75,112.26 246.68,110.86 251.65,115.09 245.18,114.30 246.25,113.40 239.15,110.29 239.65,109.14"/><polygon points="256.76,109.15 263.89,112.47 263.86,111.08 268.73,115.42 262.27,114.47 263.37,113.60 256.24,110.28 256.76,109.15"/><polygon points="273.87,109.15 281.38,112.72 281.35,111.32 286.19,115.69 279.74,114.71 280.84,113.84 273.33,110.28 273.87,109.15"/><polygon points="290.98,109.15 297.91,112.63 297.91,111.23 302.66,115.70 296.24,114.58 297.35,113.75 290.42,110.27 290.98,109.15"/><polygon points="308.09,109.16 315.35,112.99 315.38,111.59 320.03,116.16 313.63,114.91 314.76,114.09 307.51,110.27 308.09,109.16"/><polygon points="325.20,109.17 331.89,112.87 331.95,111.48 336.50,116.15 330.13,114.76 331.28,113.97 324.60,110.26 325.20,109.17"/><polygon points="342.31,109.17 348.76,112.82 348.84,111.43 353.35,116.14 346.99,114.69 348.15,113.91 341.69,110.26 342.31,109.17"/><polygon points="359.38,109.16 364.90,111.97 364.91,110.57 369.62,115.08 363.20,113.91 364.33,113.08 358.82,110.27 359.38,109.16"/><polygon points="376.50,109.16 381.54,111.90 381.59,110.51 386.19,115.14 379.80,113.80 380.95,113.00 375.90,110.26 376.50,109.16"/><polygon points="393.60,109.17 397.64,111.41 397.70,110.01 402.26,114.68 395.88,113.29 397.04,112.50 393.00,110.26 393.60,109.17"/><polygon points="410.68,109.15 414.41,111.02 414.41,109.63 419.16,114.10 412.73,112.98 413.85,112.14 410.12,110.27 410.68,109.15"/><polygon points="427.74,109.14 431.34,110.61 431.23,109.22 436.30,113.32 429.81,112.69 430.86,111.77 427.26,110.29 427.74,109.14"/><polygon points="444.79,109.12 448.23,110.24 448.02,108.85 453.38,112.57 446.86,112.42 447.84,111.42 444.41,110.31 444.79,109.12"/><polygon points="461.87,109.11 465.02,110.02 464.76,108.64 470.26,112.17 463.73,112.25 464.68,111.22 461.53,110.31 461.87,109.11"/><polygon points="478.93,109.10 481.59,109.67 481.23,108.31 486.96,111.45 480.45,111.98 481.33,110.89 478.67,110.33 478.93,109.10"/><polygon points="495.98,109.09 497.56,109.29 497.09,107.97 503.07,110.59 496.63,111.69 497.41,110.53 495.82,110.33 495.98,109.09"/><polygon points="513.03,109.09 514.96,109.19 514.40,107.91 520.55,110.11 514.21,111.65 514.90,110.44 512.97,110.34 513.03,109.09"/><polygon points="530.10,109.09 531.36,109.09 530.73,107.84 536.98,109.71 530.73,111.59 531.36,110.34 530.10,110.34 530.10,109.09"/><polygon points="547.16,109.11 547.77,109.06 547.07,107.89 553.29,109.29 547.33,111.54 547.85,110.28 547.24,110.32 547.16,109.11"/><polygon points="564.26,109.11 564.87,109.06 564.17,107.89 570.39,109.29 564.43,111.54 564.95,110.28 564.34,110.32 564.26,109.11"/><polygon points="68.48,122.36 72.84,122.93 72.38,121.61 78.34,124.27 71.90,125.33 72.68,124.17 68.32,123.60 68.48,122.36"/><polygon points="85.61,122.37 89.94,123.13 89.54,121.79 95.37,124.72 88.89,125.48 89.72,124.36 85.39,123.60 85.61,122.37"/><polygon points="102.74,122.37 107.90,123.53 107.56,122.17 113.25,125.36 106.74,125.83 107.63,124.75 102.46,123.59 102.74,122.37"/><polygon points="119.86,122.38 125.19,123.77 124.90,122.40 130.48,125.79 123.96,126.03 124.88,124.98 119.54,123.59 119.86,122.38"/><polygon points="136.98,122.38 142.37,124.00 142.13,122.62 147.58,126.22 141.05,126.22 142.01,125.20 136.62,123.58 136.98,122.38"/><polygon points="154.10,122.39 160.06,124.44 159.88,123.06 165.17,126.86 158.65,126.60 159.65,125.62 153.70,123.57 154.10,122.39"/><polygon points="171.21,122.40 177.76,124.78 177.60,123.39 182.84,127.29 176.32,126.92 177.34,125.95 170.79,123.57 171.21,122.40"/><polygon points="188.31,122.40 195.50,125.01 195.34,123.62 200.57,127.52 194.05,127.14 195.07,126.18 187.89,123.57 188.31,122.40"/><polygon points="205.42,122.40 212.14,124.98 212.01,123.59 217.17,127.58 210.66,127.09 211.69,126.14 204.98,123.57 205.42,122.40"/><polygon points="222.53,122.40 229.41,125.18 229.30,123.79 234.39,127.87 227.90,127.27 228.94,126.34 222.07,123.56 222.53,122.40"/><polygon points="239.66,122.41 246.82,125.68 246.77,124.28 251.68,128.58 245.21,127.69 246.30,126.81 239.14,123.55 239.66,122.41"/><polygon points="256.77,122.42 263.95,125.92 263.93,124.52 268.73,128.95 262.29,127.89 263.40,127.04 256.23,123.54 256.77,122.42"/><polygon points="273.87,122.42 281.38,125.98 281.35,124.59 286.19,128.96 279.74,127.98 280.84,127.11 273.33,123.55 273.87,122.42"/><polygon points="290.99,122.43 298.04,126.18 298.07,124.78 302.71,129.37 296.31,128.09 297.45,127.28 290.41,123.53 290.99,122.43"/><polygon points="308.08,122.43 314.89,125.90 314.90,124.50 319.62,129.01 313.20,127.84 314.33,127.01 307.52,123.54 308.08,122.43"/><polygon points="325.17,122.42 331.76,125.59 331.73,124.19 336.55,128.59 330.11,127.57 331.21,126.71 324.63,123.55 325.17,122.42"/><polygon points="342.28,122.43 348.30,125.49 348.31,124.09 353.02,128.60 346.60,127.43 347.73,126.60 341.72,123.54 342.28,122.43"/><polygon points="359.36,122.42 364.87,124.98 364.83,123.59 369.70,127.93 363.25,126.99 364.34,126.12 358.84,123.55 359.36,122.42"/><polygon points="376.46,122.41 381.27,124.61 381.22,123.21 386.13,127.51 379.67,126.62 380.76,125.75 375.94,123.55 376.46,122.41"/><polygon points="393.56,122.42 396.94,123.98 396.90,122.58 401.79,126.90 395.33,125.98 396.42,125.11 393.04,123.55 393.56,122.42"/><polygon points="410.64,122.41 413.76,123.73 413.68,122.34 418.70,126.50 412.21,125.79 413.27,124.88 410.16,123.56 410.64,122.41"/><polygon points="427.70,122.39 430.59,123.36 430.40,121.97 435.73,125.74 429.21,125.53 430.20,124.54 427.30,123.58 427.70,122.39"/><polygon points="444.75,122.38 447.39,123.03 447.08,121.67 452.69,125.00 446.17,125.31 447.08,124.25 444.45,123.59 444.75,122.38"/><polygon points="461.81,122.37 464.59,122.86 464.19,121.52 470.02,124.45 463.54,125.21 464.38,124.09 461.59,123.60 461.81,122.37"/><polygon points="478.83,122.36 481.32,122.49 480.76,121.21 486.90,123.41 480.57,124.95 481.25,123.74 478.77,123.61 478.83,122.36"/><polygon points="495.90,122.36 497.38,122.36 496.76,121.11 503.01,122.98 496.76,124.86 497.38,123.61 495.90,123.61 495.90,122.36"/><polygon points="512.97,122.36 514.90,122.26 514.21,121.04 520.55,122.59 514.40,124.79 514.96,123.51 513.03,123.61 512.97,122.36"/><polygon points="530.05,122.36 531.30,122.25 530.57,121.06 536.96,122.38 530.90,124.80 531.41,123.50 530.15,123.61 530.05,122.36"/><polygon points="547.09,122.37 548.00,122.21 547.17,121.08 553.65,121.85 547.82,124.78 548.22,123.44 547.31,123.60 547.09,122.37"/><polygon points="564.19,122.37 565.10,122.21 564.27,121.08 570.75,121.85 564.92,124.78 565.32,123.44 564.41,123.60 564.19,122.37"/><polygon points="68.48,135.63 72.95,136.21 72.49,134.89 78.45,137.56 72.01,138.61 72.79,137.45 68.32,136.87 68.48,135.63"/><polygon points="85.60,135.64 90.49,136.45 90.08,135.12 95.93,138.00 89.46,138.82 90.28,137.69 85.40,136.87 85.60,135.64"/><polygon points="102.75,135.64 107.89,136.91 107.58,135.54 113.20,138.86 106.68,139.19 107.59,138.12 102.45,136.86 102.75,135.64"/><polygon points="119.86,135.65 125.30,137.07 125.01,135.70 130.59,139.09 124.07,139.33 124.99,138.27 119.54,136.86 119.86,135.65"/><polygon points="136.97,135.65 142.81,137.33 142.56,135.95 148.05,139.48 141.52,139.56 142.47,138.53 136.63,136.85 136.97,135.65"/><polygon points="154.10,135.66 160.06,137.71 159.88,136.33 165.17,140.13 158.65,139.87 159.65,138.89 153.70,136.84 154.10,135.66"/><polygon points="171.21,135.66 177.76,138.05 177.60,136.66 182.84,140.56 176.32,140.18 177.34,139.22 170.79,136.84 171.21,135.66"/><polygon points="188.31,135.66 195.09,138.08 194.92,136.69 200.18,140.55 193.66,140.22 194.67,139.25 187.89,136.84 188.31,135.66"/><polygon points="205.41,135.66 212.17,138.13 212.02,136.74 217.25,140.64 210.73,140.26 211.75,139.30 204.99,136.84 205.41,135.66"/><polygon points="222.53,135.67 229.72,138.58 229.61,137.18 234.71,141.26 228.21,140.66 229.26,139.74 222.07,136.83 222.53,135.67"/><polygon points="239.65,135.68 247.05,138.97 246.98,137.58 251.93,141.83 245.46,141.00 246.54,140.11 239.15,136.82 239.65,135.68"/><polygon points="256.76,135.69 264.30,139.20 264.26,137.80 269.13,142.14 262.68,141.20 263.77,140.33 256.24,136.82 256.76,135.69"/><polygon points="273.87,135.69 281.35,139.34 281.33,137.94 286.13,142.36 279.69,141.31 280.80,140.46 273.33,136.81 273.87,135.69"/><polygon points="290.98,135.69 297.99,139.27 298.00,137.87 302.72,142.38 296.30,141.21 297.43,140.38 290.42,136.81 290.98,135.69"/><polygon points="308.08,135.69 314.79,139.11 314.80,137.72 319.52,142.22 313.10,141.06 314.23,140.23 307.52,136.81 308.08,135.69"/><polygon points="325.17,135.69 331.64,138.84 331.63,137.45 336.42,141.87 329.98,140.82 331.09,139.97 324.63,136.81 325.17,135.69"/><polygon points="342.27,135.69 348.34,138.65 348.32,137.25 353.12,141.68 346.68,140.62 347.79,139.77 341.73,136.81 342.27,135.69"/><polygon points="359.36,135.68 364.89,138.20 364.84,136.81 369.75,141.10 363.28,140.22 364.37,139.34 358.84,136.82 359.36,135.68"/><polygon points="376.42,135.67 381.26,137.52 381.12,136.13 386.29,140.12 379.78,139.63 380.81,138.69 375.98,136.84 376.42,135.67"/><polygon points="393.52,135.67 397.42,137.16 397.28,135.77 402.45,139.76 395.94,139.27 396.97,138.33 393.08,136.84 393.52,135.67"/><polygon points="410.58,135.65 413.82,136.64 413.59,135.27 419.02,138.89 412.49,138.85 413.46,137.84 410.22,136.85 410.58,135.65"/><polygon points="427.65,135.65 430.07,136.25 429.76,134.88 435.37,138.22 428.86,138.52 429.77,137.46 427.35,136.86 427.65,135.65"/><polygon points="444.72,135.64 447.16,136.11 446.79,134.77 452.57,137.80 446.07,138.45 446.93,137.34 444.48,136.87 444.72,135.64"/><polygon points="461.75,135.63 463.90,135.82 463.39,134.52 469.45,136.93 463.06,138.25 463.79,137.06 461.65,136.87 461.75,135.63"/><polygon points="478.85,135.63 481.00,135.82 480.49,134.52 486.55,136.93 480.16,138.25 480.89,137.06 478.75,136.87 478.85,135.63"/><polygon points="495.90,135.63 497.38,135.63 496.76,134.38 503.01,136.25 496.76,138.13 497.38,136.88 495.90,136.88 495.90,135.63"/><polygon points="512.93,135.63 514.08,135.51 513.32,134.33 519.73,135.54 513.72,138.06 514.21,136.75 513.07,136.87 512.93,135.63"/><polygon points="529.94,135.65 531.15,135.32 530.23,134.28 536.75,134.47 531.20,137.90 531.48,136.53 530.26,136.86 529.94,135.65"/><polygon points="547.01,135.66 547.99,135.34 547.01,134.34 553.53,134.19 548.17,137.91 548.38,136.53 547.39,136.85 547.01,135.66"/><polygon points="564.11,135.66 565.09,135.34 564.11,134.34 570.63,134.19 565.27,137.91 565.48,136.53 564.49,136.85 564.11,135.66"/><polygon points="68.49,148.90 73.28,149.60 72.84,148.27 78.76,151.03 72.30,151.98 73.10,150.84 68.31,150.14 68.49,148.90"/><polygon points="85.62,148.91 91.14,149.98 90.77,148.63 96.55,151.67 90.05,152.32 90.90,151.21 85.38,150.13 85.62,148.91"/><polygon points="102.76,148.92 108.74,150.50 108.46,149.13 114.02,152.54 107.50,152.75 108.42,151.71 102.44,150.12 102.76,148.92"/><polygon points="119.88,148.92 126.55,150.96 126.32,149.58 131.75,153.20 125.22,153.17 126.18,152.16 119.52,150.12 119.88,148.92"/><polygon points="136.98,148.92 143.87,150.98 143.63,149.60 149.09,153.18 142.56,153.19 143.52,152.18 136.62,150.12 136.98,148.92"/><polygon points="154.11,148.93 161.00,151.35 160.83,149.96 166.11,153.79 159.59,153.50 160.59,152.53 153.69,150.11 154.11,148.93"/><polygon points="171.23,148.94 178.85,151.99 178.73,150.59 183.84,154.66 177.34,154.08 178.38,153.15 170.77,150.10 171.23,148.94"/><polygon points="188.34,148.94 195.61,151.95 195.51,150.56 200.56,154.68 194.07,154.02 195.13,153.11 187.86,150.10 188.34,148.94"/><polygon points="205.44,148.94 212.49,151.91 212.40,150.51 217.43,154.66 210.94,153.97 212.00,153.06 204.96,150.10 205.44,148.94"/><polygon points="222.57,148.96 230.76,152.92 230.75,151.52 235.56,155.93 229.11,154.90 230.22,154.04 222.03,150.08 222.57,148.96"/><polygon points="239.68,148.96 247.29,152.84 247.30,151.44 252.02,155.95 245.60,154.78 246.72,153.95 239.12,150.08 239.68,148.96"/><polygon points="256.80,148.97 265.08,153.50 265.13,152.11 269.71,156.75 263.33,155.40 264.48,154.60 256.20,150.07 256.80,148.97"/><polygon points="273.90,148.97 281.60,153.15 281.65,151.76 286.24,156.39 279.86,155.05 281.00,154.25 273.30,150.07 273.90,148.97"/><polygon points="290.99,148.97 298.04,152.71 298.07,151.32 302.71,155.91 296.31,154.63 297.45,153.82 290.41,150.07 290.99,148.97"/><polygon points="308.10,148.97 314.91,152.68 314.96,151.29 319.55,155.93 313.16,154.58 314.31,153.78 307.50,150.07 308.10,148.97"/><polygon points="325.18,148.96 332.79,152.84 332.80,151.44 337.52,155.95 331.10,154.78 332.22,153.95 324.62,150.08 325.18,148.96"/><polygon points="342.28,148.96 348.69,152.23 348.71,150.83 353.42,155.34 347.00,154.17 348.13,153.34 341.72,150.08 342.28,148.96"/><polygon points="359.36,148.95 365.28,151.71 365.24,150.31 370.11,154.65 363.65,153.71 364.75,152.84 358.84,150.09 359.36,148.95"/><polygon points="376.41,148.93 381.50,150.74 381.33,149.35 386.60,153.20 380.08,152.88 381.08,151.91 375.99,150.11 376.41,148.93"/><polygon points="393.53,148.94 397.62,150.56 397.50,149.17 402.62,153.21 396.12,152.65 397.16,151.72 393.07,150.10 393.53,148.94"/><polygon points="410.58,148.92 413.93,149.93 413.69,148.55 419.14,152.14 412.61,152.14 413.57,151.12 410.22,150.12 410.58,148.92"/><polygon points="427.59,148.90 429.94,149.23 429.50,147.91 435.43,150.63 428.98,151.62 429.77,150.47 427.41,150.14 427.59,148.90"/><polygon points="444.63,148.90 447.01,149.02 446.45,147.74 452.59,149.94 446.25,151.48 446.94,150.27 444.57,150.14 444.63,148.90"/><polygon points="461.68,148.90 463.83,148.82 463.16,147.59 469.48,149.25 463.29,151.34 463.88,150.07 461.72,150.15 461.68,148.90"/><polygon points="478.75,148.90 480.89,148.71 480.16,147.52 486.55,148.84 480.49,151.26 481.00,149.96 478.85,150.14 478.75,148.90"/><polygon points="495.80,148.90 497.38,148.65 496.56,147.52 503.03,148.39 497.15,151.22 497.57,149.89 496.00,150.14 495.80,148.90"/><polygon points="512.84,148.92 514.05,148.59 513.13,147.55 519.65,147.74 514.10,151.17 514.38,149.80 513.16,150.12 512.84,148.92"/><polygon points="529.87,148.94 530.72,148.60 529.67,147.67 536.17,147.07 531.08,151.15 531.19,149.75 530.33,150.10 529.87,148.94"/><polygon points="546.94,148.95 547.77,148.56 546.68,147.70 553.13,146.75 548.26,151.09 548.30,149.70 547.46,150.09 546.94,148.95"/><polygon points="564.04,148.95 564.87,148.56 563.78,147.70 570.23,146.75 565.36,151.09 565.40,149.70 564.56,150.09 564.04,148.95"/><polygon points="68.50,162.17 73.39,162.99 72.98,161.66 78.83,164.54 72.36,165.35 73.18,164.22 68.30,163.41 68.50,162.17"/><polygon points="85.64,162.18 91.56,163.53 91.23,162.17 96.91,165.38 90.40,165.83 91.29,164.75 85.36,163.40 85.64,162.18"/><polygon points="102.77,162.19 108.83,163.90 108.57,162.53 114.07,166.04 107.55,166.14 108.49,165.11 102.43,163.39 102.77,162.19"/><polygon points="119.89,162.19 126.63,164.36 126.42,162.98 131.80,166.67 125.28,166.55 126.25,165.55 119.51,163.38 119.89,162.19"/><polygon points="137.01,162.20 143.90,164.61 143.73,163.23 149.01,167.06 142.49,166.77 143.49,165.79 136.59,163.38 137.01,162.20"/><polygon points="154.13,162.21 161.12,165.03 161.01,163.64 166.10,167.72 159.60,167.12 160.65,166.19 153.67,163.37 154.13,162.21"/><polygon points="171.24,162.21 178.92,165.41 178.82,164.01 183.87,168.15 177.38,167.48 178.44,166.56 170.76,163.37 171.24,162.21"/><polygon points="188.34,162.21 195.59,165.29 195.50,163.89 200.52,168.06 194.03,167.35 195.10,166.44 187.86,163.36 188.34,162.21"/><polygon points="205.44,162.21 213.12,165.41 213.02,164.01 218.07,168.15 211.58,167.48 212.64,166.56 204.96,163.37 205.44,162.21"/><polygon points="222.55,162.22 230.25,165.65 230.19,164.25 235.14,168.51 228.66,167.68 229.74,166.79 222.05,163.36 222.55,162.22"/><polygon points="239.66,162.22 247.32,165.73 247.27,164.33 252.18,168.64 245.71,167.74 246.80,166.87 239.14,163.36 239.66,162.22"/><polygon points="256.75,162.22 264.89,165.76 264.81,164.36 269.80,168.57 263.32,167.80 264.39,166.90 256.25,163.36 256.75,162.22"/><polygon points="273.86,162.22 281.42,165.68 281.37,164.29 286.27,168.59 279.81,167.70 280.90,166.82 273.34,163.36 273.86,162.22"/><polygon points="290.95,162.22 297.83,165.28 297.77,163.89 302.72,168.14 296.25,167.31 297.33,166.42 290.45,163.36 290.95,162.22"/><polygon points="308.07,162.23 315.25,165.73 315.23,164.33 320.03,168.75 313.59,167.70 314.70,166.85 307.53,163.35 308.07,162.23"/><polygon points="325.16,162.22 331.69,165.26 331.65,163.87 336.52,168.21 330.06,167.27 331.16,166.40 324.64,163.36 325.16,162.22"/><polygon points="342.27,162.23 348.24,165.14 348.22,163.74 353.02,168.16 346.58,167.11 347.69,166.26 341.73,163.35 342.27,162.23"/><polygon points="359.34,162.21 364.32,164.33 364.23,162.93 369.25,167.10 362.77,166.38 363.83,165.48 358.86,163.36 359.34,162.21"/><polygon points="376.40,162.20 380.66,163.67 380.48,162.28 385.78,166.09 379.26,165.83 380.26,164.85 376.00,163.38 376.40,162.20"/><polygon points="393.51,162.20 397.12,163.51 396.96,162.13 402.19,166.03 395.68,165.65 396.69,164.69 393.09,163.38 393.51,162.20"/><polygon points="410.55,162.18 413.84,163.00 413.53,161.64 419.14,164.97 412.63,165.28 413.54,164.22 410.25,163.40 410.55,162.18"/><polygon points="427.55,162.17 429.92,162.37 429.41,161.07 435.47,163.49 429.08,164.81 429.82,163.62 427.45,163.41 427.55,162.17"/><polygon points="444.62,162.17 447.00,162.25 446.42,160.98 452.60,163.07 446.29,164.72 446.96,163.50 444.58,163.41 444.62,162.17"/><polygon points="461.60,162.17 463.40,161.89 462.59,160.75 469.05,161.63 463.17,164.45 463.59,163.12 461.80,163.41 461.60,162.17"/><polygon points="478.59,162.20 481.03,161.31 480.02,160.35 486.53,159.98 481.30,163.88 481.46,162.49 479.01,163.38 478.59,162.20"/><polygon points="495.67,162.21 497.56,161.44 496.51,160.52 503.01,159.92 497.92,164.00 498.03,162.60 496.13,163.37 495.67,162.21"/><polygon points="512.69,162.25 514.07,161.45 512.90,160.68 519.25,159.18 514.78,163.93 514.69,162.53 513.31,163.33 512.69,162.25"/><polygon points="529.75,162.27 531.07,161.38 529.86,160.69 536.09,158.75 531.95,163.80 531.77,162.42 530.45,163.31 529.75,162.27"/><polygon points="546.82,162.30 548.07,161.32 546.81,160.71 552.89,158.34 549.12,163.67 548.84,162.30 547.58,163.28 546.82,162.30"/><polygon points="563.92,162.30 565.17,161.32 563.91,160.71 569.99,158.34 566.22,163.67 565.94,162.30 564.68,163.28 563.92,162.30"/><polygon points="68.50,175.44 73.61,176.30 73.20,174.96 79.06,177.84 72.58,178.66 73.40,177.53 68.30,176.68 68.50,175.44"/><polygon points="85.65,175.45 91.66,176.93 91.35,175.56 96.97,178.88 90.45,179.21 91.36,178.14 85.35,176.67 85.65,175.45"/><polygon points="102.77,175.46 109.37,177.35 109.11,175.97 114.60,179.50 108.08,179.58 109.02,178.55 102.43,176.66 102.77,175.46"/><polygon points="119.89,175.46 126.63,177.63 126.42,176.25 131.80,179.94 125.28,179.82 126.25,178.82 119.51,176.65 119.89,175.46"/><polygon points="137.02,175.48 144.58,178.37 144.44,176.98 149.60,180.97 143.10,180.48 144.13,179.54 136.58,176.64 137.02,175.48"/><polygon points="154.15,175.49 161.78,178.79 161.70,177.39 166.69,181.59 160.21,180.83 161.28,179.93 153.65,176.63 154.15,175.49"/><polygon points="171.25,175.49 178.88,178.79 178.80,177.39 183.79,181.59 177.31,180.83 178.38,179.93 170.75,176.63 171.25,175.49"/><polygon points="188.36,175.49 196.10,179.10 196.06,177.70 200.94,182.04 194.48,181.10 195.57,180.23 187.84,176.63 188.36,175.49"/><polygon points="205.45,175.49 213.77,179.19 213.70,177.79 218.65,182.05 212.18,181.22 213.26,180.33 204.95,176.63 205.45,175.49"/><polygon points="222.56,175.49 230.30,179.10 230.26,177.70 235.14,182.04 228.68,181.10 229.77,180.23 222.04,176.63 222.56,175.49"/><polygon points="239.68,175.50 247.29,179.38 247.30,177.98 252.02,182.49 245.60,181.32 246.72,180.49 239.12,176.62 239.68,175.50"/><polygon points="256.75,175.49 264.86,179.10 264.80,177.70 269.75,181.96 263.27,181.13 264.35,180.24 256.25,176.63 256.75,175.49"/><polygon points="273.87,175.49 281.38,179.06 281.35,177.66 286.19,182.04 279.74,181.05 280.84,180.19 273.33,176.62 273.87,175.49"/><polygon points="290.97,175.49 297.97,178.82 297.95,177.42 302.79,181.80 296.34,180.81 297.44,179.95 290.43,176.62 290.97,175.49"/><polygon points="308.08,175.50 314.89,178.97 314.90,177.57 319.62,182.08 313.20,180.92 314.33,180.09 307.52,176.62 308.08,175.50"/><polygon points="325.17,175.50 331.25,178.42 331.23,177.02 336.05,181.42 329.60,180.40 330.71,179.55 324.63,176.62 325.17,175.50"/><polygon points="342.23,175.48 347.99,177.73 347.86,176.34 353.00,180.37 346.49,179.83 347.53,178.90 341.77,176.64 342.23,175.48"/><polygon points="359.29,175.46 364.12,177.00 363.90,175.62 369.29,179.31 362.76,179.20 363.74,178.19 358.91,176.65 359.29,175.46"/><polygon points="376.35,175.45 379.86,176.31 379.55,174.94 385.17,178.25 378.66,178.59 379.56,177.52 376.05,176.67 376.35,175.45"/><polygon points="393.43,175.45 396.30,176.06 395.95,174.71 401.68,177.84 395.17,178.37 396.04,177.28 393.17,176.67 393.43,175.45"/><polygon points="410.44,175.44 413.60,175.66 413.06,174.37 419.17,176.67 412.80,178.11 413.51,176.90 410.36,176.68 410.44,175.44"/><polygon points="427.50,175.43 429.77,175.43 429.14,174.18 435.39,176.06 429.14,177.93 429.77,176.68 427.50,176.68 427.50,175.43"/><polygon points="444.51,175.44 446.76,175.12 445.97,173.97 452.42,174.96 446.49,177.69 446.93,176.36 444.69,176.68 444.51,175.44"/><polygon points="461.48,175.48 463.07,174.86 462.04,173.92 468.55,173.43 463.38,177.42 463.52,176.03 461.92,176.64 461.48,175.48"/><polygon points="478.54,175.49 480.08,174.77 478.99,173.90 485.45,172.96 480.57,177.30 480.61,175.90 479.06,176.63 478.54,175.49"/><polygon points="495.60,175.51 496.70,174.90 495.55,174.11 501.92,172.72 497.36,177.39 497.30,175.99 496.20,176.61 495.60,175.51"/><polygon points="512.67,175.53 514.50,174.39 513.30,173.66 519.60,171.94 515.29,176.84 515.16,175.45 513.33,176.59 512.67,175.53"/><polygon points="529.72,175.57 530.62,174.86 529.36,174.26 535.44,171.89 531.67,177.21 531.39,175.84 530.48,176.55 529.72,175.57"/><polygon points="546.78,175.59 547.97,174.53 546.67,174.02 552.57,171.23 549.18,176.80 548.80,175.46 547.62,176.52 546.78,175.59"/><polygon points="563.88,175.59 565.07,174.53 563.77,174.02 569.67,171.23 566.28,176.80 565.90,175.46 564.72,176.52 563.88,175.59"/><polygon points="68.52,188.71 73.82,189.75 73.45,188.40 79.23,191.43 72.73,192.08 73.58,190.97 68.28,189.94 68.52,188.71"/><polygon points="85.64,188.72 91.56,190.09 91.23,188.73 96.90,191.96 90.39,192.38 91.28,191.30 85.36,189.94 85.64,188.72"/><polygon points="102.77,188.73 109.38,190.56 109.11,189.19 114.63,192.66 108.11,192.80 109.04,191.76 102.43,189.93 102.77,188.73"/><polygon points="119.89,188.73 127.05,191.07 126.85,189.69 132.20,193.41 125.68,193.26 126.66,192.26 119.51,189.92 119.89,188.73"/><polygon points="137.01,188.74 144.88,191.62 144.72,190.23 149.94,194.14 143.43,193.75 144.45,192.79 136.59,189.91 137.01,188.74"/><polygon points="154.13,188.75 161.75,191.78 161.63,190.39 166.75,194.44 160.25,193.87 161.29,192.94 153.67,189.91 154.13,188.75"/><polygon points="171.25,188.75 179.40,192.27 179.32,190.88 184.31,195.07 177.83,194.32 178.90,193.42 170.75,189.90 171.25,188.75"/><polygon points="188.37,188.76 196.44,192.57 196.41,191.17 201.27,195.54 194.81,194.57 195.91,193.70 187.83,189.89 188.37,188.76"/><polygon points="205.46,188.76 213.48,192.42 213.43,191.02 218.34,195.32 211.88,194.43 212.97,193.55 204.94,189.90 205.46,188.76"/><polygon points="222.57,188.76 230.76,192.73 230.75,191.33 235.56,195.74 229.11,194.70 230.22,193.85 222.03,189.89 222.57,188.76"/><polygon points="239.69,188.77 247.12,192.63 247.14,191.23 251.83,195.77 245.41,194.56 246.54,193.73 239.11,189.88 239.69,188.77"/><polygon points="256.77,188.76 265.26,192.74 265.22,191.34 270.09,195.69 263.63,194.74 264.73,193.87 256.23,189.89 256.77,188.76"/><polygon points="273.88,188.77 281.44,192.49 281.43,191.09 286.21,195.53 279.77,194.45 280.89,193.61 273.32,189.89 273.88,188.77"/><polygon points="290.97,188.76 297.63,191.90 297.60,190.50 302.45,194.86 296.00,193.89 297.10,193.03 290.43,189.89 290.97,188.76"/><polygon points="308.03,188.75 313.87,191.11 313.76,189.71 318.86,193.79 312.36,193.19 313.41,192.27 307.57,189.91 308.03,188.75"/><polygon points="325.11,188.74 330.40,190.66 330.24,189.28 335.47,193.18 328.96,192.80 329.97,191.84 324.69,189.91 325.11,188.74"/><polygon points="342.16,188.72 346.52,189.89 346.24,188.52 351.79,191.95 345.26,192.14 346.19,191.10 341.84,189.93 342.16,188.72"/><polygon points="359.22,188.71 362.98,189.45 362.61,188.10 368.39,191.13 361.89,191.78 362.75,190.67 358.98,189.94 359.22,188.71"/><polygon points="376.27,188.71 379.19,189.01 378.70,187.70 384.72,190.22 378.31,191.43 379.06,190.26 376.13,189.95 376.27,188.71"/><polygon points="393.27,188.70 395.42,188.59 394.73,187.38 401.07,188.92 394.93,191.12 395.48,189.84 393.33,189.95 393.27,188.70"/><polygon points="410.23,188.73 412.51,188.07 411.57,187.04 418.09,187.12 412.60,190.65 412.86,189.27 410.57,189.93 410.23,188.73"/><polygon points="427.27,188.75 428.54,188.23 427.49,187.31 433.99,186.71 428.89,190.79 429.01,189.39 427.73,189.91 427.27,188.75"/><polygon points="444.27,188.80 445.91,187.77 444.71,187.05 451.01,185.32 446.70,190.23 446.57,188.83 444.93,189.86 444.27,188.80"/><polygon points="461.35,188.81 462.95,187.73 461.73,187.04 467.96,185.10 463.83,190.15 463.65,188.77 462.05,189.85 461.35,188.81"/><polygon points="478.42,188.84 479.41,188.06 478.15,187.46 484.22,185.09 480.45,190.41 480.18,189.04 479.18,189.82 478.42,188.84"/><polygon points="495.49,188.86 496.86,187.66 495.57,187.13 501.52,184.44 498.03,189.96 497.68,188.61 496.31,189.80 495.49,188.86"/><polygon points="512.59,188.87 513.05,188.47 511.78,187.97 517.53,185.25 514.22,190.69 513.86,189.37 513.41,189.78 512.59,188.87"/><polygon points="529.67,188.88 530.89,187.69 529.58,187.23 535.37,184.23 532.18,189.92 531.76,188.59 530.53,189.78 529.67,188.88"/><polygon points="546.74,188.91 548.48,186.97 547.13,186.60 552.71,183.21 549.92,189.11 549.41,187.81 547.66,189.75 546.74,188.91"/><polygon points="563.84,188.91 565.58,186.97 564.23,186.60 569.81,183.21 567.02,189.11 566.51,187.81 564.76,189.75 563.84,188.91"/><polygon points="68.52,201.98 74.04,203.06 73.67,201.71 79.45,204.74 72.95,205.39 73.80,204.28 68.28,203.21 68.52,201.98"/><polygon points="85.64,201.99 91.56,203.33 91.23,201.98 96.91,205.19 90.40,205.63 91.29,204.55 85.36,203.21 85.64,201.99"/><polygon points="102.76,201.99 109.39,203.77 109.11,202.40 114.66,205.83 108.14,206.02 109.06,204.98 102.44,203.20 102.76,201.99"/><polygon points="119.90,202.00 127.47,204.52 127.27,203.14 132.61,206.89 126.09,206.70 127.07,205.71 119.50,203.19 119.90,202.00"/><polygon points="137.01,202.01 145.18,204.85 145.00,203.47 150.28,207.29 143.76,207.01 144.76,206.03 136.59,203.19 137.01,202.01"/><polygon points="154.11,202.01 161.72,204.78 161.56,203.39 166.79,207.29 160.27,206.91 161.29,205.95 153.69,203.18 154.11,202.01"/><polygon points="171.25,202.02 179.91,205.75 179.83,204.36 184.83,208.55 178.35,207.80 179.42,206.90 170.75,203.17 171.25,202.02"/><polygon points="188.37,202.03 196.78,206.05 196.76,204.65 201.59,209.03 195.14,208.03 196.25,207.17 187.83,203.16 188.37,202.03"/><polygon points="205.46,202.03 213.20,205.64 213.16,204.24 218.04,208.58 211.58,207.64 212.67,206.77 204.94,203.16 205.46,202.03"/><polygon points="222.58,202.04 231.22,206.36 231.22,204.97 235.97,209.44 229.54,208.32 230.66,207.48 222.02,203.16 222.58,202.04"/><polygon points="239.69,202.04 246.95,205.87 246.98,204.47 251.63,209.05 245.23,207.79 246.36,206.98 239.11,203.15 239.69,202.04"/><polygon points="256.78,202.04 265.64,206.40 265.63,205.00 270.41,209.44 263.98,208.37 265.09,207.52 256.22,203.16 256.78,202.04"/><polygon points="273.88,202.04 281.49,205.92 281.50,204.52 286.22,209.03 279.80,207.86 280.92,207.03 273.32,203.15 273.88,202.04"/><polygon points="290.96,202.03 297.28,204.98 297.24,203.58 302.12,207.92 295.66,206.98 296.75,206.11 290.44,203.16 290.96,202.03"/><polygon points="308.01,202.01 313.30,203.93 313.14,202.55 318.37,206.44 311.86,206.07 312.87,205.11 307.59,203.18 308.01,202.01"/><polygon points="325.10,202.01 329.36,203.47 329.18,202.09 334.48,205.90 327.96,205.63 328.96,204.65 324.70,203.19 325.10,202.01"/><polygon points="342.12,201.98 345.55,202.65 345.18,201.30 350.96,204.34 344.46,204.99 345.32,203.88 341.88,203.21 342.12,201.98"/><polygon points="359.15,201.97 362.08,202.20 361.55,200.90 367.64,203.25 361.26,204.64 361.98,203.45 359.05,203.22 359.15,201.97"/><polygon points="376.17,201.97 378.43,201.85 377.74,200.64 384.08,202.18 377.94,204.38 378.50,203.10 376.23,203.22 376.17,201.97"/><polygon points="393.13,202.00 395.41,201.34 394.47,200.31 400.99,200.39 395.50,203.92 395.76,202.54 393.47,203.20 393.13,202.00"/><polygon points="410.16,202.02 412.65,200.96 411.59,200.05 418.08,199.34 413.06,203.51 413.14,202.11 410.64,203.17 410.16,202.02"/><polygon points="427.22,202.04 428.64,201.32 427.51,200.49 433.93,199.32 429.22,203.83 429.20,202.43 427.78,203.15 427.22,202.04"/><polygon points="444.22,202.10 446.12,200.67 444.87,200.04 450.99,197.78 447.13,203.04 446.88,201.66 444.98,203.10 444.22,202.10"/><polygon points="461.30,202.12 463.29,200.44 462.01,199.89 468.00,197.31 464.42,202.76 464.10,201.40 462.10,203.08 461.30,202.12"/><polygon points="478.37,202.14 479.70,200.90 478.39,200.41 484.24,197.52 480.95,203.15 480.56,201.81 479.23,203.05 478.37,202.14"/><polygon points="495.43,202.18 497.08,200.32 495.73,199.96 501.28,196.52 498.54,202.44 498.02,201.15 496.37,203.01 495.43,202.18"/><polygon points="512.53,202.19 513.28,201.32 511.93,200.97 517.44,197.49 514.76,203.43 514.22,202.14 513.47,203.01 512.53,202.19"/><polygon points="529.63,202.19 531.26,200.31 529.91,199.96 535.42,196.47 532.74,202.42 532.21,201.13 530.57,203.01 529.63,202.19"/><polygon points="546.71,202.20 547.86,200.79 546.49,200.49 551.88,196.81 549.41,202.85 548.83,201.58 547.69,202.99 546.71,202.20"/><polygon points="563.81,202.20 564.96,200.79 563.59,200.49 568.98,196.81 566.51,202.85 565.93,201.58 564.79,202.99 563.81,202.20"/><polygon points="68.52,215.25 74.04,216.33 73.67,214.98 79.45,218.01 72.95,218.66 73.80,217.55 68.28,216.48 68.52,215.25"/><polygon points="85.67,215.26 92.16,217.12 91.90,215.75 97.39,219.28 90.87,219.36 91.81,218.33 85.33,216.47 85.67,215.26"/><polygon points="102.79,215.27 109.53,217.44 109.32,216.05 114.70,219.75 108.18,219.62 109.15,218.63 102.41,216.46 102.79,215.27"/><polygon points="119.92,215.28 127.48,218.18 127.34,216.79 132.50,220.78 126.00,220.29 127.03,219.35 119.48,216.45 119.92,215.28"/><polygon points="137.01,215.28 145.14,218.24 144.98,216.85 150.22,220.75 143.70,220.37 144.72,219.41 136.59,216.45 137.01,215.28"/><polygon points="154.15,215.29 161.78,218.59 161.70,217.20 166.69,221.40 160.21,220.64 161.28,219.74 153.65,216.44 154.15,215.29"/><polygon points="171.25,215.29 178.88,218.59 178.80,217.20 183.79,221.40 177.31,220.64 178.38,219.74 170.75,216.44 171.25,215.29"/><polygon points="188.35,215.29 196.67,219.00 196.60,217.60 201.55,221.85 195.08,221.03 196.16,220.14 187.85,216.44 188.35,215.29"/><polygon points="205.46,215.30 214.23,219.35 214.19,217.95 219.07,222.28 212.61,221.36 213.71,220.48 204.94,216.43 205.46,215.30"/><polygon points="222.56,215.30 230.65,218.95 230.59,217.55 235.52,221.83 229.05,220.97 230.13,220.09 222.04,216.44 222.56,215.30"/><polygon points="239.67,215.30 246.85,218.80 246.83,217.40 251.63,221.83 245.19,220.77 246.30,219.93 239.13,216.43 239.67,215.30"/><polygon points="256.76,215.30 264.85,218.95 264.79,217.55 269.72,221.83 263.25,220.97 264.33,220.09 256.24,216.44 256.76,215.30"/><polygon points="273.84,215.29 281.29,218.45 281.21,217.06 286.23,221.22 279.74,220.51 280.80,219.60 273.36,216.44 273.84,215.29"/><polygon points="290.92,215.28 297.02,217.59 296.88,216.20 302.06,220.16 295.55,219.70 296.58,218.76 290.48,216.45 290.92,215.28"/><polygon points="308.00,215.27 312.90,216.96 312.72,215.58 318.02,219.38 311.50,219.12 312.49,218.14 307.60,216.46 308.00,215.27"/><polygon points="325.08,215.27 328.86,216.42 328.63,215.04 334.05,218.66 327.53,218.63 328.49,217.62 324.72,216.46 325.08,215.27"/><polygon points="342.05,215.24 344.98,215.47 344.45,214.17 350.54,216.52 344.16,217.91 344.88,216.71 341.95,216.49 342.05,215.24"/><polygon points="359.12,215.24 362.05,215.32 361.46,214.05 367.66,216.09 361.36,217.80 362.02,216.57 359.08,216.49 359.12,215.24"/><polygon points="376.03,215.26 378.10,214.67 377.15,213.64 383.68,213.72 378.19,217.25 378.44,215.87 376.37,216.47 376.03,215.26"/><polygon points="393.05,215.29 394.92,214.47 393.85,213.58 400.33,212.80 395.35,217.02 395.42,215.62 393.55,216.44 393.05,215.29"/><polygon points="410.09,215.32 411.66,214.41 410.50,213.64 416.85,212.14 412.37,216.89 412.29,215.50 410.71,216.41 410.09,215.32"/><polygon points="427.15,215.35 428.92,214.13 427.69,213.45 433.90,211.45 429.82,216.54 429.63,215.16 427.85,216.38 427.15,215.35"/><polygon points="444.17,215.41 446.41,213.33 445.10,212.84 450.95,209.95 447.65,215.58 447.26,214.24 445.03,216.32 444.17,215.41"/><polygon points="461.24,215.44 462.33,214.27 460.99,213.88 466.62,210.59 463.73,216.43 463.24,215.13 462.16,216.29 461.24,215.44"/><polygon points="478.30,215.49 480.30,212.89 478.93,212.62 484.22,208.80 481.90,214.90 481.29,213.65 479.30,216.25 478.30,215.49"/><polygon points="495.43,215.46 496.61,214.08 495.26,213.74 500.75,210.22 498.10,216.18 497.56,214.89 496.37,216.27 495.43,215.46"/><polygon points="512.49,215.50 514.29,213.03 512.91,212.80 518.10,208.85 515.94,215.00 515.30,213.76 513.51,216.23 512.49,215.50"/><polygon points="529.59,215.51 531.98,212.09 530.60,211.89 535.72,207.84 533.67,214.04 533.00,212.81 530.61,216.22 529.59,215.51"/><polygon points="546.68,215.53 548.22,213.15 546.83,213.00 551.80,208.78 549.97,215.04 549.26,213.83 547.72,216.21 546.68,215.53"/><polygon points="563.78,215.53 565.32,213.15 563.93,213.00 568.90,208.78 567.07,215.04 566.36,213.83 564.82,216.21 563.78,215.53"/><polygon points="68.52,228.52 74.15,229.62 73.78,228.27 79.56,231.30 73.06,231.95 73.91,230.84 68.28,229.75 68.52,228.52"/><polygon points="85.64,228.53 91.99,230.03 91.67,228.67 97.32,231.93 90.81,232.32 91.70,231.24 85.36,229.74 85.64,228.53"/><polygon points="102.77,228.53 110.45,230.68 110.19,229.31 115.70,232.79 109.18,232.92 110.12,231.88 102.43,229.74 102.77,228.53"/><polygon points="119.90,228.54 127.47,231.06 127.27,229.68 132.61,233.43 126.09,233.23 127.07,232.25 119.50,229.73 119.90,228.54"/><polygon points="137.01,228.55 145.25,231.54 145.09,230.16 150.32,234.06 143.81,233.68 144.82,232.72 136.59,229.72 137.01,228.55"/><polygon points="154.13,228.55 162.16,231.80 162.04,230.40 167.14,234.48 160.64,233.88 161.69,232.95 153.67,229.71 154.13,228.55"/><polygon points="171.25,228.56 178.95,231.99 178.89,230.59 183.84,234.85 177.36,234.02 178.44,233.13 170.75,229.71 171.25,228.56"/><polygon points="188.36,228.57 198.23,233.17 198.20,231.77 203.07,236.11 196.61,235.17 197.71,234.30 187.84,229.70 188.36,228.57"/><polygon points="205.46,228.57 214.23,232.62 214.19,231.22 219.07,235.55 212.61,234.63 213.71,233.75 204.94,229.70 205.46,228.57"/><polygon points="222.56,228.57 229.69,231.89 229.66,230.50 234.53,234.84 228.07,233.89 229.17,233.03 222.04,229.70 222.56,228.57"/><polygon points="239.67,228.57 247.65,232.46 247.64,231.07 252.43,235.49 245.99,234.44 247.10,233.59 239.13,229.70 239.67,228.57"/><polygon points="256.73,228.55 264.76,231.80 264.64,230.40 269.74,234.48 263.24,233.88 264.29,232.95 256.27,229.71 256.73,228.55"/><polygon points="273.81,228.55 280.15,230.85 279.99,229.47 285.23,233.37 278.71,232.99 279.73,232.03 273.39,229.72 273.81,228.55"/><polygon points="290.85,228.53 296.42,229.92 296.12,228.55 301.73,231.88 295.21,232.19 296.12,231.13 290.55,229.74 290.85,228.53"/><polygon points="307.89,228.52 312.57,229.22 312.14,227.89 318.04,230.67 311.58,231.60 312.39,230.45 307.71,229.75 307.89,228.52"/><polygon points="324.95,228.51 327.88,228.74 327.35,227.44 333.44,229.79 327.06,231.18 327.78,229.98 324.85,229.76 324.95,228.51"/><polygon points="341.95,228.51 344.32,228.31 343.59,227.12 349.98,228.46 343.90,230.86 344.42,229.56 342.05,229.76 341.95,228.51"/><polygon points="358.93,228.53 361.00,227.94 360.05,226.91 366.58,226.99 361.09,230.52 361.34,229.14 359.27,229.74 358.93,228.53"/><polygon points="375.90,228.59 377.79,227.55 376.64,226.76 383.02,225.40 378.44,230.04 378.39,228.65 376.50,229.68 375.90,228.59"/><polygon points="392.97,228.60 395.27,227.17 394.08,226.44 400.37,224.71 396.07,229.62 395.93,228.23 393.63,229.66 392.97,228.60"/><polygon points="410.01,228.65 411.59,227.36 410.32,226.78 416.36,224.31 412.68,229.70 412.38,228.33 410.79,229.62 410.01,228.65"/><polygon points="427.07,228.68 429.31,226.60 428.00,226.11 433.85,223.22 430.55,228.85 430.16,227.51 427.93,229.59 427.07,228.68"/><polygon points="444.15,228.70 445.96,226.83 444.63,226.41 450.32,223.22 447.32,229.01 446.86,227.70 445.05,229.57 444.15,228.70"/><polygon points="461.22,228.73 462.89,226.74 461.54,226.41 466.99,222.83 464.41,228.82 463.85,227.54 462.18,229.54 461.22,228.73"/><polygon points="478.28,228.78 480.65,225.34 479.26,225.15 484.35,221.06 482.35,227.27 481.68,226.05 479.32,229.49 478.28,228.78"/><polygon points="495.41,228.75 496.79,226.96 495.42,226.69 500.73,222.89 498.39,228.98 497.78,227.72 496.39,229.52 495.41,228.75"/><polygon points="512.48,228.78 514.38,225.98 512.99,225.80 518.04,221.66 516.10,227.89 515.41,226.68 513.52,229.48 512.48,228.78"/><polygon points="529.59,228.78 530.95,226.83 529.57,226.62 534.69,222.58 532.64,228.77 531.98,227.54 530.61,229.49 529.59,228.78"/><polygon points="546.68,228.78 548.58,225.98 547.19,225.80 552.24,221.66 550.30,227.89 549.61,226.68 547.72,229.48 546.68,228.78"/><polygon points="563.78,228.78 565.68,225.98 564.29,225.80 569.34,221.66 567.40,227.89 566.71,226.68 564.82,229.48 563.78,228.78"/><polygon points="68.54,241.79 74.68,243.21 74.35,241.85 80.02,245.09 73.51,245.51 74.40,244.43 68.26,243.01 68.54,241.79"/><polygon points="85.67,241.80 92.80,243.85 92.55,242.47 98.04,246.00 91.51,246.08 92.46,245.05 85.33,243.00 85.67,241.80"/><polygon points="102.79,241.81 110.49,244.31 110.28,242.93 115.64,246.64 109.12,246.49 110.10,245.50 102.41,243.00 102.79,241.81"/><polygon points="119.91,241.82 127.62,244.62 127.46,243.23 132.69,247.13 126.18,246.76 127.19,245.80 119.49,242.99 119.91,241.82"/><polygon points="137.03,241.82 145.57,245.27 145.46,243.88 150.56,247.96 144.06,247.36 145.11,246.43 136.57,242.98 137.03,241.82"/><polygon points="154.15,241.83 162.26,245.44 162.20,244.05 167.15,248.30 160.67,247.47 161.75,246.58 153.65,242.97 154.15,241.83"/><polygon points="171.26,241.84 179.61,245.73 179.57,244.33 184.45,248.67 177.99,247.73 179.08,246.86 170.74,242.97 171.26,241.84"/><polygon points="188.36,241.84 197.42,246.06 197.38,244.66 202.26,249.00 195.80,248.06 196.89,247.19 187.84,242.97 188.36,241.84"/><polygon points="205.46,241.84 214.22,245.92 214.18,244.52 219.05,248.86 212.60,247.92 213.69,247.05 204.94,242.97 205.46,241.84"/><polygon points="222.53,241.82 230.24,244.94 230.13,243.55 235.22,247.63 228.73,247.02 229.78,246.10 222.07,242.98 222.53,241.82"/><polygon points="239.63,241.82 247.14,244.85 247.02,243.46 252.12,247.54 245.62,246.94 246.67,246.01 239.17,242.98 239.63,241.82"/><polygon points="256.69,241.81 263.54,244.03 263.33,242.65 268.69,246.37 262.17,246.22 263.15,245.22 256.31,243.00 256.69,241.81"/><polygon points="273.76,241.80 280.17,243.52 279.89,242.15 285.44,245.58 278.92,245.77 279.85,244.72 273.44,243.01 273.76,241.80"/><polygon points="290.81,241.79 296.13,242.73 295.73,241.39 301.56,244.32 295.08,245.08 295.91,243.96 290.59,243.02 290.81,241.79"/><polygon points="307.89,241.79 312.57,242.48 312.14,241.16 318.04,243.93 311.58,244.86 312.39,243.72 307.71,243.02 307.89,241.79"/><polygon points="324.85,241.78 327.78,241.55 327.06,240.36 333.44,241.75 327.35,244.10 327.88,242.80 324.95,243.03 324.85,241.78"/><polygon points="341.82,241.81 343.77,241.21 342.81,240.20 349.33,240.16 343.90,243.78 344.14,242.40 342.18,243.00 341.82,241.81"/><polygon points="358.80,241.86 360.68,240.81 359.53,240.02 365.90,238.63 361.35,243.30 361.29,241.91 359.40,242.95 358.80,241.86"/><polygon points="375.81,241.92 378.26,239.93 376.99,239.35 383.03,236.87 379.35,242.26 379.05,240.90 376.59,242.89 375.81,241.92"/><polygon points="392.88,241.94 394.82,240.20 393.52,239.69 399.41,236.90 396.02,242.47 395.65,241.13 393.72,242.87 392.88,241.94"/><polygon points="409.94,241.98 412.25,239.50 410.91,239.10 416.55,235.81 413.65,241.66 413.17,240.35 410.86,242.83 409.94,241.98"/><polygon points="426.99,242.04 428.80,239.45 427.42,239.25 432.54,235.20 430.49,241.40 429.83,240.17 428.01,242.76 426.99,242.04"/><polygon points="444.09,242.04 445.45,240.10 444.07,239.89 449.19,235.85 447.14,242.04 446.48,240.81 445.11,242.76 444.09,242.04"/><polygon points="461.20,242.03 463.24,239.32 461.86,239.07 467.12,235.21 464.86,241.33 464.24,240.07 462.20,242.78 461.20,242.03"/><polygon points="478.28,242.05 479.55,240.17 478.16,239.99 483.21,235.86 481.27,242.09 480.59,240.87 479.32,242.75 478.28,242.05"/><polygon points="495.37,242.08 497.25,239.00 495.86,238.88 500.71,234.52 499.06,240.83 498.31,239.65 496.43,242.73 495.37,242.08"/><polygon points="512.48,242.05 513.75,240.17 512.36,239.99 517.41,235.86 515.47,242.09 514.79,240.87 513.52,242.75 512.48,242.05"/><polygon points="529.58,242.05 531.73,238.87 530.34,238.69 535.39,234.56 533.45,240.79 532.76,239.57 530.62,242.75 529.58,242.05"/><polygon points="546.68,242.05 548.51,239.34 547.13,239.16 552.18,235.03 550.24,241.25 549.55,240.04 547.72,242.75 546.68,242.05"/><polygon points="563.78,242.05 565.61,239.34 564.23,239.16 569.28,235.03 567.34,241.25 566.65,240.04 564.82,242.75 563.78,242.05"/><polygon points="68.56,255.07 75.19,256.84 74.91,255.47 80.46,258.90 73.94,259.10 74.86,258.05 68.24,256.28 68.56,255.07"/><polygon points="85.69,255.08 93.83,257.66 93.61,256.28 99.00,259.96 92.48,259.85 93.45,258.85 85.31,256.27 85.69,255.08"/><polygon points="102.81,255.08 110.64,257.90 110.47,256.51 115.72,260.39 109.20,260.04 110.21,259.08 102.39,256.26 102.81,255.08"/><polygon points="119.94,255.10 127.62,258.29 127.52,256.90 132.57,261.03 126.08,260.36 127.14,259.44 119.46,256.25 119.94,255.10"/><polygon points="137.06,255.11 145.83,259.16 145.79,257.76 150.67,262.08 144.21,261.16 145.31,260.29 136.54,256.24 137.06,255.11"/><polygon points="154.17,255.11 162.36,259.07 162.35,257.67 167.16,262.08 160.71,261.05 161.82,260.20 153.63,256.24 154.17,255.11"/><polygon points="171.27,255.11 180.16,259.44 180.14,258.05 184.94,262.47 178.50,261.42 179.61,260.57 170.73,256.23 171.27,255.11"/><polygon points="188.38,255.12 196.79,259.40 196.80,258.00 201.52,262.51 195.10,261.34 196.22,260.51 187.82,256.23 188.38,255.12"/><polygon points="205.49,255.12 215.41,260.39 215.44,258.99 220.08,263.58 213.68,262.31 214.82,261.50 204.91,256.22 205.49,255.12"/><polygon points="222.58,255.11 230.42,259.04 230.42,257.64 235.17,262.11 228.74,260.99 229.86,260.15 222.02,256.23 222.58,255.11"/><polygon points="239.66,255.11 246.19,258.15 246.15,256.75 251.02,261.09 244.56,260.15 245.66,259.28 239.14,256.24 239.66,255.11"/><polygon points="256.71,255.09 261.58,256.86 261.42,255.47 266.65,259.37 260.14,258.99 261.15,258.03 256.29,256.26 256.71,255.09"/><polygon points="273.77,255.07 279.94,256.78 279.68,255.41 285.20,258.89 278.67,259.03 279.61,257.99 273.43,256.27 273.77,255.07"/><polygon points="290.76,255.05 295.80,255.56 295.31,254.26 301.34,256.75 294.93,257.99 295.68,256.81 290.64,256.29 290.76,255.05"/><polygon points="307.77,255.05 312.39,254.85 311.71,253.63 318.04,255.24 311.87,257.38 312.44,256.10 307.83,256.30 307.77,255.05"/><polygon points="324.73,255.07 326.80,254.48 325.85,253.45 332.38,253.53 326.89,257.05 327.14,255.68 325.07,256.27 324.73,255.07"/><polygon points="341.69,255.13 343.65,254.00 342.48,253.23 348.83,251.73 344.36,256.48 344.28,255.08 342.31,256.21 341.69,255.13"/><polygon points="358.69,255.20 360.75,253.43 359.46,252.89 365.41,250.22 361.91,255.73 361.56,254.37 359.51,256.15 358.69,255.20"/><polygon points="375.73,255.26 378.72,251.88 377.37,251.52 382.91,248.08 380.18,254.01 379.65,252.71 376.67,256.09 375.73,255.26"/><polygon points="392.79,255.31 394.59,252.84 393.21,252.61 398.40,248.65 396.24,254.81 395.60,253.57 393.81,256.04 392.79,255.31"/><polygon points="409.89,255.31 412.05,252.28 410.67,252.06 415.83,248.06 413.73,254.24 413.07,253.00 410.91,256.04 409.89,255.31"/><polygon points="426.99,255.31 428.79,252.84 427.41,252.61 432.60,248.65 430.44,254.81 429.80,253.57 428.01,256.04 426.99,255.31"/><polygon points="444.07,255.34 446.28,251.80 444.89,251.67 449.79,247.36 448.07,253.66 447.34,252.47 445.13,256.00 444.07,255.34"/><polygon points="461.18,255.33 462.65,253.06 461.27,252.90 466.24,248.68 464.41,254.94 463.70,253.74 462.22,256.01 461.18,255.33"/><polygon points="478.26,255.36 480.23,251.94 478.84,251.86 483.59,247.38 482.08,253.73 481.31,252.57 479.34,255.98 478.26,255.36"/><polygon points="495.35,255.37 498.03,250.55 496.63,250.49 501.30,245.93 499.91,252.30 499.12,251.15 496.45,255.98 495.35,255.37"/><polygon points="512.46,255.35 514.55,251.87 513.16,251.76 517.99,247.37 516.38,253.69 515.63,252.52 513.54,255.99 512.46,255.35"/><polygon points="529.56,255.36 531.98,251.17 530.59,251.08 535.33,246.61 533.83,252.96 533.06,251.79 530.64,255.98 529.56,255.36"/><polygon points="546.66,255.36 548.86,251.55 547.46,251.47 552.21,246.99 550.71,253.34 549.94,252.18 547.74,255.98 546.66,255.36"/><polygon points="563.76,255.36 565.96,251.55 564.56,251.47 569.31,246.99 567.81,253.34 567.04,252.18 564.84,255.98 563.76,255.36"/><polygon points="68.59,268.35 75.23,270.48 75.02,269.10 80.39,272.79 73.87,272.67 74.85,271.67 68.21,269.54 68.59,268.35"/><polygon points="85.71,268.35 93.95,271.35 93.79,269.96 99.02,273.86 92.51,273.49 93.52,272.53 85.29,269.53 85.71,268.35"/><polygon points="102.84,268.36 111.15,271.79 111.05,270.39 116.11,274.51 109.62,273.86 110.67,272.94 102.36,269.52 102.84,268.36"/><polygon points="119.95,268.37 128.27,272.07 128.20,270.68 133.15,274.93 126.68,274.10 127.76,273.21 119.45,269.51 119.95,268.37"/><polygon points="137.05,268.37 145.71,272.10 145.63,270.70 150.63,274.90 144.15,274.15 145.22,273.25 136.55,269.52 137.05,268.37"/><polygon points="154.16,268.37 161.90,271.98 161.86,270.59 166.74,274.93 160.28,273.99 161.37,273.12 153.64,269.51 154.16,268.37"/><polygon points="171.28,268.38 180.09,272.87 180.10,271.47 184.82,275.98 178.40,274.82 179.52,273.99 170.72,269.50 171.28,268.38"/><polygon points="188.36,268.37 196.10,271.98 196.06,270.59 200.94,274.93 194.48,273.99 195.57,273.12 187.84,269.51 188.36,268.37"/><polygon points="205.46,268.37 214.23,272.43 214.19,271.03 219.07,275.35 212.61,274.43 213.71,273.56 204.94,269.51 205.46,268.37"/><polygon points="222.56,268.37 229.72,271.64 229.67,270.24 234.58,274.54 228.11,273.65 229.20,272.77 222.04,269.51 222.56,268.37"/><polygon points="239.63,268.36 245.39,270.62 245.26,269.23 250.40,273.25 243.89,272.72 244.93,271.78 239.17,269.52 239.63,268.36"/><polygon points="256.69,268.35 263.22,270.47 263.01,269.08 268.37,272.80 261.85,272.65 262.83,271.66 256.31,269.54 256.69,268.35"/><polygon points="273.72,268.33 279.46,269.44 279.09,268.10 284.87,271.13 278.37,271.78 279.22,270.67 273.48,269.55 273.72,268.33"/><polygon points="290.65,268.32 295.02,267.94 294.29,266.74 300.68,268.07 294.62,270.48 295.13,269.18 290.75,269.56 290.65,268.32"/><polygon points="307.63,268.34 311.31,267.28 310.37,266.25 316.89,266.33 311.40,269.86 311.66,268.49 307.97,269.54 307.63,268.34"/><polygon points="324.61,268.39 326.71,267.27 325.57,266.46 331.97,265.18 327.33,269.77 327.29,268.38 325.19,269.49 324.61,268.39"/><polygon points="341.62,268.45 343.94,266.65 342.68,266.04 348.78,263.70 344.98,269.01 344.71,267.64 342.38,269.44 341.62,268.45"/><polygon points="358.64,268.52 361.21,265.68 359.87,265.30 365.45,261.93 362.65,267.82 362.14,266.52 359.56,269.36 358.64,268.52"/><polygon points="375.70,268.57 377.60,266.04 376.23,265.79 381.49,261.92 379.22,268.04 378.60,266.79 376.70,269.32 375.70,268.57"/><polygon points="392.77,268.61 394.80,265.36 393.41,265.23 398.31,260.92 396.59,267.21 395.86,266.02 393.83,269.27 392.77,268.61"/><polygon points="409.86,268.62 411.78,265.43 410.39,265.32 415.21,260.93 413.60,267.25 412.85,266.07 410.94,269.26 409.86,268.62"/><polygon points="426.95,268.64 429.25,264.50 427.85,264.44 432.52,259.88 431.13,266.26 430.34,265.11 428.05,269.24 426.95,268.64"/><polygon points="444.05,268.64 446.94,263.42 445.55,263.36 450.22,258.81 448.83,265.18 448.04,264.03 445.15,269.24 444.05,268.64"/><polygon points="461.17,268.61 463.20,265.36 461.81,265.23 466.71,260.92 464.99,267.21 464.26,266.02 462.23,269.27 461.17,268.61"/><polygon points="478.26,268.63 480.90,264.05 479.51,263.96 484.26,259.49 482.76,265.84 481.99,264.67 479.34,269.25 478.26,268.63"/><polygon points="495.36,268.62 497.28,265.43 495.89,265.32 500.71,260.93 499.10,267.25 498.35,266.07 496.44,269.26 495.36,268.62"/><polygon points="512.46,268.62 515.02,264.37 513.62,264.26 518.45,259.87 516.84,266.20 516.09,265.02 513.54,269.26 512.46,268.62"/><polygon points="529.59,268.58 531.59,265.72 530.21,265.51 535.33,261.47 533.28,267.66 532.62,266.43 530.61,269.30 529.59,268.58"/><polygon points="546.68,268.60 548.95,265.10 547.56,264.95 552.54,260.73 550.70,266.99 550.00,265.78 547.72,269.28 546.68,268.60"/><polygon points="563.78,268.60 566.05,265.10 564.66,264.95 569.64,260.73 567.80,266.99 567.10,265.78 564.82,269.28 563.78,268.60"/><polygon points="68.62,281.63 76.40,284.55 76.26,283.16 81.45,287.12 74.94,286.67 75.96,285.72 68.18,282.80 68.62,281.63"/><polygon points="85.74,281.63 94.05,285.06 93.95,283.66 99.01,287.78 92.52,287.13 93.57,286.21 85.26,282.79 85.74,281.63"/><polygon points="102.85,281.64 111.17,285.34 111.10,283.94 116.05,288.20 109.58,287.37 110.66,286.48 102.35,282.78 102.85,281.64"/><polygon points="119.97,281.65 128.38,285.66 128.36,284.26 133.19,288.65 126.74,287.65 127.85,286.79 119.43,282.77 119.97,281.65"/><polygon points="137.08,281.65 145.89,286.14 145.90,284.74 150.62,289.25 144.20,288.08 145.32,287.25 136.52,282.77 137.08,281.65"/><polygon points="154.19,281.65 162.87,286.14 162.89,284.74 167.58,289.27 161.17,288.07 162.30,287.25 153.61,282.77 154.19,281.65"/><polygon points="171.30,281.66 179.18,285.99 179.23,284.60 183.80,289.25 177.42,287.88 178.57,287.09 170.70,282.76 171.30,281.66"/><polygon points="188.36,281.64 198.23,286.25 198.20,284.85 203.07,289.19 196.61,288.25 197.71,287.38 187.84,282.78 188.36,281.64"/><polygon points="205.45,281.64 213.15,285.07 213.09,283.67 218.04,287.93 211.56,287.10 212.64,286.21 204.95,282.78 205.45,281.64"/><polygon points="222.54,281.64 228.96,284.36 228.87,282.96 233.89,287.13 227.41,286.42 228.47,285.51 222.06,282.79 222.54,281.64"/><polygon points="239.60,281.62 246.51,284.00 246.33,282.61 251.63,286.42 245.11,286.16 246.11,285.18 239.20,282.80 239.60,281.62"/><polygon points="256.58,281.59 262.27,282.36 261.82,281.04 267.76,283.73 261.32,284.75 262.10,283.60 256.42,282.83 256.58,281.59"/><polygon points="273.56,281.59 277.95,281.30 277.24,280.10 283.60,281.56 277.48,283.84 278.03,282.55 273.64,282.83 273.56,281.59"/><polygon points="290.49,281.62 294.09,280.31 293.08,279.35 299.59,278.97 294.36,282.87 294.52,281.49 290.91,282.80 290.49,281.62"/><polygon points="307.49,281.67 309.06,280.76 307.90,279.99 314.25,278.49 309.77,283.24 309.69,281.84 308.11,282.75 307.49,281.67"/><polygon points="324.49,281.74 326.62,279.88 325.33,279.35 331.28,276.67 327.79,282.18 327.44,280.83 325.31,282.68 324.49,281.74"/><polygon points="341.51,281.83 344.35,278.19 342.98,277.91 348.31,274.14 345.94,280.22 345.34,278.96 342.49,282.60 341.51,281.83"/><polygon points="358.58,281.86 360.62,278.88 359.24,278.69 364.32,274.59 362.33,280.81 361.66,279.58 359.62,282.56 358.58,281.86"/><polygon points="375.67,281.89 378.41,277.36 377.01,277.25 381.85,272.87 380.22,279.19 379.48,278.01 376.73,282.53 375.67,281.89"/><polygon points="392.78,281.87 394.70,278.94 393.31,278.78 398.31,274.58 396.45,280.84 395.74,279.63 393.82,282.55 392.78,281.87"/><polygon points="409.85,281.91 411.93,278.16 410.53,278.10 415.20,273.54 413.81,279.92 413.02,278.77 410.95,282.51 409.85,281.91"/><polygon points="426.95,281.91 429.84,276.69 428.45,276.63 433.12,272.08 431.73,278.45 430.94,277.30 428.05,282.51 426.95,281.91"/><polygon points="444.08,281.87 446.23,278.56 444.84,278.40 449.81,274.18 447.98,280.45 447.27,279.24 445.12,282.55 444.08,281.87"/><polygon points="461.16,281.90 463.80,277.32 462.41,277.23 467.16,272.76 465.66,279.11 464.89,277.94 462.24,282.52 461.16,281.90"/><polygon points="478.26,281.89 480.18,278.70 478.79,278.59 483.61,274.20 482.00,280.52 481.25,279.34 479.34,282.53 478.26,281.89"/><polygon points="495.36,281.89 497.28,278.70 495.89,278.59 500.71,274.20 499.10,280.52 498.35,279.34 496.44,282.53 495.36,281.89"/><polygon points="512.49,281.84 514.62,278.92 513.24,278.69 518.43,274.74 516.27,280.90 515.63,279.66 513.51,282.58 512.49,281.84"/><polygon points="529.58,281.87 531.73,278.56 530.34,278.40 535.31,274.18 533.48,280.45 532.77,279.24 530.62,282.55 529.58,281.87"/><polygon points="546.68,281.87 548.76,278.65 547.38,278.50 552.35,274.28 550.52,280.54 549.81,279.33 547.72,282.55 546.68,281.87"/><polygon points="563.78,281.87 565.86,278.65 564.48,278.50 569.45,274.28 567.62,280.54 566.91,279.33 564.82,282.55 563.78,281.87"/><polygon points="68.63,294.90 76.76,298.18 76.65,296.79 81.74,300.87 75.24,300.27 76.29,299.34 68.17,296.06 68.63,294.90"/><polygon points="85.75,294.91 93.96,298.56 93.90,297.17 98.85,301.42 92.38,300.59 93.46,299.71 85.25,296.05 85.75,294.91"/><polygon points="102.86,294.91 111.62,298.99 111.58,297.60 116.45,301.94 110.00,301.00 111.09,300.13 102.34,296.05 102.86,294.91"/><polygon points="119.97,294.92 128.15,298.91 128.14,297.51 132.93,301.93 126.49,300.88 127.60,300.03 119.43,296.04 119.97,294.92"/><polygon points="137.08,294.92 145.89,299.41 145.90,298.01 150.62,302.52 144.20,301.35 145.32,300.52 136.52,296.04 137.08,294.92"/><polygon points="154.19,294.93 162.52,299.36 162.56,297.96 167.20,302.55 160.80,301.27 161.94,300.46 153.61,296.03 154.19,294.93"/><polygon points="171.29,294.93 179.62,299.36 179.66,297.96 184.30,302.55 177.90,301.27 179.04,300.46 170.71,296.03 171.29,294.93"/><polygon points="188.37,294.92 196.35,298.81 196.34,297.41 201.13,301.84 194.69,300.78 195.80,299.93 187.83,296.04 188.37,294.92"/><polygon points="205.45,294.91 213.05,298.29 212.99,296.89 217.93,301.15 211.46,300.32 212.54,299.43 204.95,296.05 205.45,294.91"/><polygon points="222.51,294.89 229.27,297.35 229.12,295.96 234.35,299.86 227.83,299.49 228.85,298.53 222.09,296.07 222.51,294.89"/><polygon points="239.51,294.86 245.49,295.92 245.09,294.58 250.92,297.51 244.44,298.27 245.27,297.15 239.29,296.09 239.51,294.86"/><polygon points="256.50,294.85 261.12,294.85 260.49,293.60 266.74,295.48 260.49,297.35 261.12,296.10 256.50,296.10 256.50,294.85"/><polygon points="273.39,294.89 277.62,293.35 276.61,292.39 283.12,292.01 277.89,295.91 278.05,294.53 273.81,296.07 273.39,294.89"/><polygon points="290.36,294.96 292.45,293.60 291.24,292.89 297.51,291.06 293.29,296.04 293.13,294.65 291.04,296.00 290.36,294.96"/><polygon points="307.36,295.04 308.88,293.51 307.56,293.07 313.30,289.98 310.21,295.72 309.77,294.40 308.24,295.92 307.36,295.04"/><polygon points="324.41,295.09 327.25,291.45 325.88,291.18 331.21,287.41 328.84,293.49 328.24,292.22 325.39,295.86 324.41,295.09"/><polygon points="341.49,295.12 343.30,292.53 341.92,292.32 347.04,288.28 344.99,294.48 344.33,293.25 342.51,295.84 341.49,295.12"/><polygon points="358.56,295.16 360.89,291.29 359.49,291.19 364.32,286.79 362.71,293.12 361.96,291.94 359.64,295.80 358.56,295.16"/><polygon points="375.65,295.17 378.96,289.29 377.56,289.22 382.25,284.69 380.83,291.06 380.05,289.90 376.75,295.79 375.65,295.17"/><polygon points="392.77,295.15 394.80,291.90 393.41,291.76 398.31,287.46 396.59,293.75 395.86,292.56 393.83,295.81 392.77,295.15"/><polygon points="409.84,295.20 412.71,289.47 411.31,289.47 415.79,284.72 414.67,291.15 413.83,290.03 410.96,295.76 409.84,295.20"/><polygon points="426.98,295.14 429.00,292.02 427.61,291.86 432.59,287.64 430.76,293.90 430.05,292.70 428.02,295.82 426.98,295.14"/><polygon points="444.08,295.13 446.16,292.04 444.78,291.86 449.83,287.73 447.89,293.96 447.20,292.74 445.12,295.83 444.08,295.13"/><polygon points="461.19,295.12 463.00,292.53 461.62,292.32 466.74,288.28 464.69,294.48 464.03,293.25 462.21,295.84 461.19,295.12"/><polygon points="478.26,295.17 480.23,291.75 478.84,291.66 483.59,287.19 482.08,293.54 481.31,292.37 479.34,295.79 478.26,295.17"/><polygon points="495.36,295.17 496.72,292.82 495.32,292.73 500.07,288.26 498.57,294.61 497.80,293.44 496.44,295.79 495.36,295.17"/><polygon points="512.50,295.10 514.54,292.40 513.16,292.15 518.42,288.28 516.16,294.40 515.54,293.15 513.50,295.86 512.50,295.10"/><polygon points="529.58,295.13 531.73,291.95 530.34,291.77 535.39,287.64 533.45,293.87 532.76,292.65 530.62,295.83 529.58,295.13"/><polygon points="546.68,295.14 548.76,291.92 547.38,291.77 552.35,287.55 550.52,293.81 549.81,292.60 547.72,295.82 546.68,295.14"/><polygon points="563.78,295.14 565.86,291.92 564.48,291.77 569.45,287.55 567.62,293.81 566.91,292.60 564.82,295.82 563.78,295.14"/><polygon points="68.64,308.17 77.13,311.76 77.04,310.36 82.07,314.52 75.58,313.82 76.64,312.91 68.16,309.32 68.64,308.17"/><polygon points="85.75,308.17 94.01,311.71 93.92,310.32 98.93,314.50 92.45,313.77 93.51,312.86 85.25,309.32 85.75,308.17"/><polygon points="102.87,308.18 112.49,312.79 112.47,311.40 117.29,315.79 110.85,314.78 111.95,313.92 102.33,309.31 102.87,308.18"/><polygon points="119.98,308.19 127.82,312.11 127.82,310.72 132.57,315.19 126.14,314.07 127.26,313.23 119.42,309.31 119.98,308.19"/><polygon points="137.08,308.19 145.89,312.68 145.90,311.28 150.62,315.79 144.20,314.62 145.32,313.79 136.52,309.31 137.08,308.19"/><polygon points="154.19,308.20 162.43,312.57 162.46,311.18 167.10,315.77 160.70,314.49 161.84,313.68 153.61,309.30 154.19,308.20"/><polygon points="171.30,308.20 180.20,312.99 180.24,311.59 184.85,316.21 178.46,314.89 179.60,314.09 170.70,309.30 171.30,308.20"/><polygon points="188.38,308.19 195.79,311.97 195.80,310.57 200.52,315.08 194.10,313.91 195.22,313.08 187.82,309.31 188.38,308.19"/><polygon points="205.45,308.18 214.59,312.24 214.52,310.85 219.47,315.10 213.00,314.27 214.08,313.38 204.95,309.32 205.45,308.18"/><polygon points="222.47,308.15 228.64,309.86 228.38,308.49 233.90,311.96 227.37,312.10 228.31,311.06 222.13,309.35 222.47,308.15"/><polygon points="239.44,308.12 244.05,308.42 243.51,307.13 249.62,309.41 243.26,310.88 243.97,309.67 239.36,309.37 239.44,308.12"/><polygon points="256.33,308.15 260.01,307.09 259.07,306.06 265.59,306.14 260.10,309.67 260.36,308.29 256.67,309.35 256.33,308.15"/><polygon points="273.24,308.23 277.04,305.60 275.82,304.93 282.02,302.92 277.95,308.02 277.75,306.63 273.96,309.26 273.24,308.23"/><polygon points="290.27,308.29 292.51,306.21 291.20,305.72 297.05,302.83 293.75,308.47 293.36,307.12 291.13,309.21 290.27,308.29"/><polygon points="307.29,308.38 309.81,304.92 308.43,304.69 313.62,300.73 311.47,306.89 310.82,305.65 308.31,309.12 307.29,308.38"/><polygon points="324.37,308.42 326.16,305.54 324.77,305.41 329.68,301.11 327.95,307.40 327.22,306.21 325.43,309.08 324.37,308.42"/><polygon points="341.46,308.44 343.66,304.63 342.26,304.55 347.01,300.07 345.51,306.42 344.74,305.25 342.54,309.06 341.46,308.44"/><polygon points="358.55,308.45 361.01,304.01 359.61,303.95 364.28,299.40 362.89,305.77 362.10,304.62 359.65,309.05 358.55,308.45"/><polygon points="375.66,308.44 377.86,304.63 376.46,304.55 381.21,300.07 379.71,306.42 378.94,305.25 376.74,309.06 375.66,308.44"/><polygon points="392.76,308.44 394.96,304.63 393.56,304.55 398.31,300.07 396.81,306.42 396.04,305.25 393.84,309.06 392.76,308.44"/><polygon points="409.89,308.39 412.05,305.35 410.67,305.14 415.83,301.14 413.73,307.31 413.07,306.08 410.91,309.11 409.89,308.39"/><polygon points="426.95,308.45 429.85,303.11 428.45,303.06 433.08,298.47 431.75,304.85 430.95,303.71 428.05,309.05 426.95,308.45"/><polygon points="444.06,308.43 445.75,305.62 444.36,305.51 449.18,301.12 447.57,307.44 446.82,306.26 445.14,309.07 444.06,308.43"/><polygon points="461.15,308.45 463.83,303.62 462.43,303.56 467.10,299.01 465.71,305.38 464.92,304.23 462.25,309.05 461.15,308.45"/><polygon points="478.25,308.45 481.57,302.20 480.18,302.17 484.77,297.53 483.49,303.93 482.68,302.79 479.35,309.04 478.25,308.45"/><polygon points="495.35,308.45 497.52,304.38 496.12,304.34 500.71,299.70 499.43,306.10 498.62,304.96 496.45,309.04 495.35,308.45"/><polygon points="512.47,308.42 515.93,302.89 514.54,302.75 519.44,298.45 517.72,304.74 516.99,303.55 513.53,309.08 512.47,308.42"/><polygon points="529.57,308.42 531.78,304.88 530.39,304.75 535.29,300.44 533.57,306.73 532.84,305.54 530.63,309.08 529.57,308.42"/><polygon points="546.66,308.44 549.14,304.14 547.74,304.06 552.49,299.59 550.99,305.94 550.22,304.77 547.74,309.06 546.66,308.44"/><polygon points="563.76,308.44 566.24,304.14 564.84,304.06 569.59,299.59 568.09,305.94 567.32,304.77 564.84,309.06 563.76,308.44"/><polygon points="68.60,321.43 76.99,324.32 76.81,322.93 82.11,326.74 75.59,326.48 76.59,325.50 68.20,322.61 68.60,321.43"/><polygon points="85.76,321.45 95.79,325.98 95.73,324.58 100.65,328.86 94.19,328.00 95.27,327.11 85.24,322.59 85.76,321.45"/><polygon points="102.86,321.45 111.86,325.53 111.81,324.13 116.72,328.42 110.26,327.55 111.34,326.67 102.34,322.59 102.86,321.45"/><polygon points="119.98,321.46 130.49,326.79 130.50,325.40 135.23,329.90 128.81,328.74 129.93,327.91 119.42,322.57 119.98,321.46"/><polygon points="137.08,321.46 145.84,325.77 145.83,324.37 150.61,328.81 144.18,327.74 145.29,326.89 136.52,322.58 137.08,321.46"/><polygon points="154.19,321.46 164.11,326.72 164.15,325.32 168.79,329.90 162.39,328.64 163.53,327.82 153.61,322.57 154.19,321.46"/><polygon points="171.26,321.45 180.03,325.50 179.99,324.10 184.87,328.43 178.41,327.51 179.51,326.64 170.74,322.58 171.26,321.45"/><polygon points="188.34,321.44 194.57,324.02 194.47,322.63 199.53,326.75 193.04,326.09 194.09,325.18 187.86,322.59 188.34,321.44"/><polygon points="205.42,321.43 212.45,324.13 212.32,322.74 217.48,326.73 210.98,326.24 212.01,325.30 204.98,322.60 205.42,321.43"/><polygon points="222.39,321.40 227.07,322.10 226.64,320.77 232.54,323.55 226.08,324.48 226.89,323.33 222.21,322.64 222.39,321.40"/><polygon points="239.31,321.40 242.66,320.91 241.86,319.76 248.32,320.72 242.40,323.47 242.84,322.15 239.49,322.64 239.31,321.40"/><polygon points="256.15,321.50 259.90,319.00 258.69,318.30 264.93,316.40 260.77,321.42 260.60,320.04 256.85,322.54 256.15,321.50"/><polygon points="273.17,321.57 275.44,319.37 274.12,318.91 279.92,315.91 276.73,321.60 276.31,320.27 274.03,322.47 273.17,321.57"/><polygon points="290.18,321.68 292.75,317.71 291.36,317.55 296.34,313.33 294.51,319.59 293.80,318.39 291.22,322.36 290.18,321.68"/><polygon points="307.27,321.69 309.15,318.61 307.76,318.49 312.61,314.13 310.96,320.45 310.21,319.26 308.33,322.34 307.27,321.69"/><polygon points="324.35,321.71 326.81,317.28 325.41,317.22 330.08,312.67 328.69,319.04 327.90,317.89 325.45,322.32 324.35,321.71"/><polygon points="341.43,321.75 344.66,314.83 343.27,314.86 347.61,309.99 346.67,316.45 345.80,315.35 342.57,322.28 341.43,321.75"/><polygon points="358.55,321.72 360.51,318.04 359.11,318.01 363.70,313.37 362.42,319.77 361.61,318.63 359.65,322.31 358.55,321.72"/><polygon points="375.64,321.74 378.74,315.38 377.35,315.39 381.77,310.60 380.72,317.03 379.87,315.93 376.76,322.29 375.64,321.74"/><polygon points="392.76,321.70 394.96,317.90 393.56,317.81 398.31,313.34 396.81,319.69 396.04,318.52 393.84,322.33 392.76,321.70"/><polygon points="409.85,321.73 412.65,316.34 411.25,316.32 415.80,311.64 414.58,318.05 413.76,316.92 410.95,322.31 409.85,321.73"/><polygon points="426.97,321.69 429.00,318.43 427.61,318.30 432.51,313.99 430.79,320.29 430.06,319.10 428.03,322.35 426.97,321.69"/><polygon points="444.05,321.71 446.94,316.50 445.55,316.44 450.22,311.88 448.83,318.26 448.04,317.10 445.15,322.32 444.05,321.71"/><polygon points="461.15,321.72 465.12,314.41 463.72,314.36 468.35,309.77 467.02,316.15 466.22,315.01 462.25,322.32 461.15,321.72"/><polygon points="478.26,321.70 480.82,317.45 479.42,317.34 484.25,312.95 482.64,319.27 481.89,318.09 479.34,322.34 478.26,321.70"/><polygon points="495.35,321.73 498.56,315.55 497.17,315.52 501.72,310.84 500.49,317.25 499.67,316.12 496.45,322.31 495.35,321.73"/><polygon points="512.48,321.67 514.75,318.30 513.37,318.12 518.42,313.99 516.47,320.22 515.79,319.00 513.52,322.37 512.48,321.67"/><polygon points="529.57,321.69 532.45,316.99 531.06,316.87 535.92,312.52 534.25,318.83 533.51,317.64 530.63,322.34 529.57,321.69"/><polygon points="546.66,321.70 549.42,316.93 548.02,316.84 552.77,312.37 551.27,318.72 550.50,317.55 547.74,322.33 546.66,321.70"/><polygon points="563.76,321.70 566.52,316.93 565.12,316.84 569.87,312.37 568.37,318.72 567.60,317.55 564.84,322.33 563.76,321.70"/><polygon points="68.66,334.72 76.00,338.14 75.96,336.74 80.83,341.08 74.37,340.14 75.47,339.27 68.14,335.85 68.66,334.72"/><polygon points="85.78,334.73 95.22,339.45 95.22,338.06 99.97,342.53 93.54,341.41 94.66,340.57 85.22,335.85 85.78,334.73"/><polygon points="102.88,334.73 110.84,338.64 110.83,337.25 115.61,341.69 109.17,340.61 110.29,339.77 102.32,335.85 102.88,334.73"/><polygon points="119.98,334.73 130.49,340.06 130.50,338.66 135.23,343.16 128.81,342.01 129.93,341.18 119.42,335.84 119.98,334.73"/><polygon points="137.09,334.73 145.95,339.36 145.97,337.97 150.64,342.52 144.24,341.29 145.37,340.47 136.51,335.84 137.09,334.73"/><polygon points="154.18,334.73 162.82,339.05 162.82,337.65 167.57,342.13 161.14,341.01 162.26,340.17 153.62,335.85 154.18,334.73"/><polygon points="171.26,334.72 178.94,338.17 178.88,336.77 183.82,341.05 177.35,340.19 178.43,339.31 170.74,335.86 171.26,334.72"/><polygon points="188.36,334.72 195.70,338.14 195.66,336.74 200.53,341.08 194.07,340.14 195.17,339.27 187.84,335.85 188.36,334.72"/><polygon points="205.32,334.67 210.62,335.70 210.25,334.36 216.03,337.39 209.53,338.04 210.38,336.93 205.08,335.90 205.32,334.67"/><polygon points="222.21,334.67 225.45,334.18 224.64,333.04 231.10,333.97 225.20,336.75 225.63,335.42 222.39,335.90 222.21,334.67"/><polygon points="239.08,334.75 242.68,332.63 241.50,331.87 247.84,330.31 243.41,335.10 243.31,333.71 239.72,335.82 239.08,334.75"/><polygon points="256.05,334.85 257.63,333.22 256.29,332.80 261.98,329.61 258.99,335.41 258.52,334.09 256.95,335.72 256.05,334.85"/><polygon points="273.08,334.93 275.57,331.31 274.18,331.12 279.26,327.02 277.28,333.23 276.60,332.01 274.12,335.64 273.08,334.93"/><polygon points="290.15,334.98 293.70,328.59 292.30,328.53 296.97,323.98 295.58,330.35 294.79,329.20 291.25,335.59 290.15,334.98"/><polygon points="307.25,334.99 309.42,330.91 308.02,330.88 312.61,326.24 311.33,332.64 310.52,331.50 308.35,335.58 307.25,334.99"/><polygon points="324.33,335.02 327.51,328.31 326.11,328.34 330.47,323.49 329.50,329.95 328.64,328.85 325.47,335.55 324.33,335.02"/><polygon points="341.45,334.98 343.75,330.85 342.35,330.79 347.02,326.23 345.63,332.60 344.84,331.45 342.55,335.59 341.45,334.98"/><polygon points="358.53,335.03 361.50,328.36 360.10,328.42 364.36,323.47 363.53,329.94 362.64,328.87 359.67,335.54 358.53,335.03"/><polygon points="375.65,334.99 377.61,331.31 376.21,331.28 380.80,326.64 379.52,333.04 378.71,331.90 376.75,335.58 375.65,334.99"/><polygon points="392.74,335.01 395.61,329.27 394.21,329.27 398.69,324.52 397.57,330.95 396.73,329.83 393.86,335.57 392.74,335.01"/><polygon points="409.85,334.98 411.93,331.24 410.53,331.18 415.20,326.62 413.81,333.00 413.02,331.84 410.95,335.59 409.85,334.98"/><polygon points="426.95,335.00 429.96,329.21 428.56,329.19 433.11,324.51 431.89,330.92 431.07,329.79 428.05,335.57 426.95,335.00"/><polygon points="444.05,334.99 448.02,327.68 446.62,327.63 451.25,323.04 449.92,329.42 449.12,328.28 445.15,335.58 444.05,334.99"/><polygon points="461.16,334.97 463.75,330.49 462.35,330.40 467.10,325.93 465.60,332.28 464.83,331.11 462.24,335.60 461.16,334.97"/><polygon points="478.25,334.98 481.52,329.08 480.13,329.02 484.80,324.47 483.41,330.84 482.62,329.69 479.35,335.59 478.25,334.98"/><polygon points="495.36,334.96 497.28,331.77 495.89,331.67 500.71,327.27 499.10,333.60 498.35,332.42 496.44,335.61 495.36,334.96"/><polygon points="512.45,334.98 515.13,330.16 513.73,330.10 518.40,325.54 517.01,331.92 516.22,330.77 513.55,335.59 512.45,334.98"/><polygon points="529.56,334.97 533.55,328.06 532.15,327.98 536.90,323.50 535.40,329.85 534.63,328.69 530.64,335.60 529.56,334.97"/><polygon points="546.66,334.97 549.70,329.71 548.30,329.63 553.05,325.15 551.55,331.50 550.78,330.34 547.74,335.60 546.66,334.97"/><polygon points="563.76,334.97 566.80,329.71 565.40,329.63 570.15,325.15 568.65,331.50 567.88,330.34 564.84,335.60 563.76,334.97"/><polygon points="68.65,347.98 79.22,352.69 79.15,351.29 84.10,355.55 77.63,354.72 78.71,353.83 68.15,349.13 68.65,347.98"/><polygon points="85.77,347.99 95.17,352.55 95.15,351.16 99.95,355.57 93.51,354.53 94.62,353.68 85.23,349.12 85.77,347.99"/><polygon points="102.91,348.01 114.14,354.37 114.21,352.97 118.73,357.68 112.37,356.24 113.53,355.45 102.29,349.10 102.91,348.01"/><polygon points="120.02,348.02 127.97,352.66 128.06,351.27 132.51,356.04 126.17,354.51 127.34,353.74 119.38,349.09 120.02,348.02"/><polygon points="137.11,348.01 148.12,354.32 148.20,352.92 152.69,357.65 146.33,356.17 147.50,355.40 136.49,349.10 137.11,348.01"/><polygon points="154.21,348.01 161.51,352.23 161.59,350.83 166.07,355.58 159.72,354.08 160.89,353.31 153.59,349.10 154.21,348.01"/><polygon points="171.30,348.00 180.20,352.80 180.24,351.40 184.85,356.01 178.46,354.70 179.60,353.90 170.70,349.11 171.30,348.00"/><polygon points="188.27,347.95 194.33,349.69 194.07,348.32 199.56,351.84 193.04,351.92 193.98,350.89 187.93,349.16 188.27,347.95"/><polygon points="205.13,347.93 208.94,347.49 208.17,346.32 214.60,347.47 208.60,350.05 209.08,348.74 205.27,349.18 205.13,347.93"/><polygon points="221.99,348.01 225.21,346.15 224.05,345.38 230.40,343.88 225.92,348.63 225.84,347.23 222.61,349.10 221.99,348.01"/><polygon points="238.94,348.14 240.53,346.37 239.18,346.00 244.76,342.61 241.97,348.51 241.46,347.21 239.86,348.97 238.94,348.14"/><polygon points="255.98,348.21 258.37,344.53 256.98,344.37 261.96,340.15 260.13,346.41 259.42,345.21 257.02,348.90 255.98,348.21"/><polygon points="273.05,348.26 276.32,342.23 274.93,342.18 279.56,337.58 278.22,343.97 277.42,342.83 274.15,348.85 273.05,348.26"/><polygon points="290.14,348.27 292.24,344.16 290.84,344.15 295.35,339.43 294.18,345.85 293.35,344.72 291.26,348.84 290.14,348.27"/><polygon points="307.24,348.29 310.61,341.18 309.21,341.21 313.59,336.37 312.60,342.82 311.74,341.72 308.36,348.82 307.24,348.29"/><polygon points="324.33,348.30 326.14,344.29 324.74,344.35 329.02,339.42 328.16,345.89 327.28,344.81 325.47,348.81 324.33,348.30"/><polygon points="341.43,348.30 344.69,341.14 343.30,341.19 347.60,336.28 346.71,342.74 345.83,341.66 342.57,348.81 341.43,348.30"/><polygon points="358.54,348.28 360.61,344.15 359.21,344.14 363.69,339.40 362.56,345.82 361.73,344.70 359.66,348.84 358.54,348.28"/><polygon points="375.64,348.27 378.25,343.16 376.85,343.15 381.36,338.43 380.19,344.85 379.36,343.73 376.76,348.84 375.64,348.27"/><polygon points="392.75,348.26 394.71,344.58 393.31,344.54 397.90,339.91 396.62,346.30 395.81,345.17 393.85,348.85 392.75,348.26"/><polygon points="409.85,348.26 412.60,343.10 411.20,343.06 415.79,338.42 414.51,344.82 413.70,343.68 410.95,348.85 409.85,348.26"/><polygon points="426.94,348.28 430.44,341.11 429.04,341.12 433.46,336.33 432.41,342.77 431.56,341.66 428.06,348.83 426.94,348.28"/><polygon points="444.05,348.26 446.01,344.58 444.61,344.54 449.20,339.91 447.92,346.30 447.11,345.17 445.15,348.85 444.05,348.26"/><polygon points="461.15,348.26 464.47,342.01 463.08,341.97 467.67,337.33 466.39,343.73 465.58,342.59 462.25,348.85 461.15,348.26"/><polygon points="478.25,348.26 479.94,345.07 478.55,345.04 483.14,340.40 481.86,346.80 481.05,345.66 479.35,348.85 478.25,348.26"/><polygon points="495.36,348.24 498.00,343.66 496.61,343.58 501.36,339.10 499.86,345.45 499.09,344.29 496.44,348.87 495.36,348.24"/><polygon points="512.46,348.23 516.52,341.49 515.12,341.38 519.95,336.99 518.34,343.31 517.59,342.13 513.54,348.88 512.46,348.23"/><polygon points="529.58,348.21 531.73,344.90 530.34,344.75 535.31,340.53 533.48,346.79 532.77,345.59 530.62,348.90 529.58,348.21"/><polygon points="546.66,348.24 549.42,343.47 548.02,343.38 552.77,338.91 551.27,345.26 550.50,344.09 547.74,348.87 546.66,348.24"/><polygon points="563.76,348.24 566.52,343.47 565.12,343.38 569.87,338.91 568.37,345.26 567.60,344.09 564.84,348.87 563.76,348.24"/><polygon points="68.67,361.26 78.69,366.06 78.67,364.67 83.50,369.06 77.05,368.05 78.15,367.19 68.13,362.39 68.67,361.26"/><polygon points="85.78,361.27 94.19,365.55 94.20,364.15 98.92,368.66 92.50,367.49 93.62,366.66 85.22,362.38 85.78,361.27"/><polygon points="102.91,361.28 112.73,366.95 112.82,365.56 117.29,370.31 110.94,368.80 112.11,368.03 102.29,362.37 102.91,361.28"/><polygon points="120.01,361.28 132.70,368.46 132.78,367.07 137.29,371.78 130.93,370.33 132.09,369.55 119.39,362.37 120.01,361.28"/><polygon points="137.13,361.29 146.21,366.88 146.34,365.49 150.68,370.36 144.37,368.68 145.56,367.95 136.47,362.36 137.13,361.29"/><polygon points="154.22,361.28 164.68,367.40 164.77,366.01 169.22,370.78 162.88,369.24 164.05,368.48 153.58,362.36 154.22,361.28"/><polygon points="171.21,361.24 177.76,363.62 177.60,362.23 182.84,366.13 176.32,365.76 177.34,364.80 170.79,362.41 171.21,361.24"/><polygon points="188.15,361.20 191.97,361.54 191.46,360.24 197.52,362.65 191.13,363.97 191.87,362.78 188.05,362.45 188.15,361.20"/><polygon points="204.91,361.27 208.09,359.58 206.96,358.77 213.35,357.49 208.72,362.08 208.68,360.68 205.49,362.38 204.91,361.27"/><polygon points="221.82,361.42 223.06,359.94 221.70,359.62 227.16,356.04 224.58,362.03 224.02,360.75 222.78,362.23 221.82,361.42"/><polygon points="238.86,361.50 241.19,357.64 239.79,357.53 244.62,353.14 243.01,359.46 242.26,358.28 239.94,362.15 238.86,361.50"/><polygon points="255.94,361.55 259.34,354.58 257.94,354.59 262.37,349.80 261.31,356.24 260.46,355.13 257.06,362.10 255.94,361.55"/><polygon points="273.04,361.55 275.41,356.69 274.01,356.71 278.43,351.91 277.38,358.35 276.53,357.24 274.16,362.10 273.04,361.55"/><polygon points="290.13,361.58 293.43,353.94 292.03,354.02 296.24,349.03 295.47,355.51 294.58,354.44 291.27,362.07 290.13,361.58"/><polygon points="308.35,361.82 308.07,361.35 307.52,361.35 307.25,361.82 307.52,362.30 308.07,362.30 308.35,361.82 308.07,361.35"/><polygon points="325.45,361.82 325.17,361.35 324.62,361.35 324.35,361.82 324.62,362.30 325.17,362.30 325.45,361.82 325.17,361.35"/><polygon points="341.43,361.57 343.31,357.35 341.91,357.41 346.17,352.47 345.34,358.94 344.45,357.86 342.57,362.08 341.43,361.57"/><polygon points="358.53,361.57 361.36,355.32 359.97,355.37 364.26,350.46 363.38,356.92 362.50,355.84 359.67,362.08 358.53,361.57"/><polygon points="375.63,361.57 377.25,357.97 375.85,358.03 380.12,353.09 379.27,359.56 378.39,358.48 376.77,362.08 375.63,361.57"/><polygon points="392.74,361.55 395.30,356.29 393.91,356.31 398.33,351.51 397.28,357.95 396.43,356.84 393.86,362.10 392.74,361.55"/><polygon points="409.84,361.54 413.76,353.71 412.37,353.71 416.84,348.96 415.72,355.39 414.88,354.27 410.96,362.10 409.84,361.54"/><polygon points="426.95,361.53 429.27,357.16 427.88,357.12 432.47,352.48 431.19,358.88 430.38,357.74 428.05,362.12 426.95,361.53"/><polygon points="444.06,361.51 447.21,356.06 445.81,355.97 450.56,351.50 449.06,357.85 448.29,356.68 445.14,362.14 444.06,361.51"/><polygon points="461.15,361.52 463.01,358.17 461.62,358.11 466.29,353.55 464.90,359.93 464.11,358.77 462.25,362.13 461.15,361.52"/><polygon points="478.25,361.52 480.93,356.70 479.53,356.64 484.20,352.08 482.81,358.46 482.02,357.30 479.35,362.13 478.25,361.52"/><polygon points="495.36,361.50 499.30,354.95 497.91,354.84 502.73,350.45 501.12,356.77 500.37,355.59 496.44,362.15 495.36,361.50"/><polygon points="512.46,361.51 515.05,357.03 513.65,356.94 518.40,352.47 516.90,358.82 516.13,357.65 513.54,362.14 512.46,361.51"/><polygon points="529.56,361.50 532.52,356.58 531.13,356.47 535.95,352.08 534.34,358.41 533.59,357.23 530.64,362.15 529.56,361.50"/><polygon points="546.66,361.51 549.42,356.74 548.02,356.65 552.77,352.18 551.27,358.53 550.50,357.36 547.74,362.14 546.66,361.51"/><polygon points="563.76,361.51 566.52,356.74 565.12,356.65 569.87,352.18 568.37,358.53 567.60,357.36 564.84,362.14 563.76,361.51"/><polygon points="68.70,374.54 78.27,379.74 78.32,378.34 82.91,382.97 76.53,381.64 77.67,380.84 68.10,375.64 68.70,374.54"/><polygon points="85.99,375.34 85.96,374.79 85.47,374.54 85.01,374.84 85.04,375.39 85.53,375.64 85.99,375.34 85.96,374.79"/><polygon points="103.08,375.37 103.08,374.82 102.60,374.54 102.12,374.82 102.12,375.37 102.60,375.64 103.08,375.37 103.08,374.82"/><polygon points="120.18,375.36 120.17,374.81 119.70,374.54 119.22,374.82 119.23,375.37 119.70,375.64 120.18,375.36 120.17,374.81"/><polygon points="137.27,375.38 137.28,374.83 136.82,374.54 136.33,374.80 136.32,375.35 136.78,375.64 137.27,375.38 137.28,374.83"/><polygon points="154.37,375.37 154.38,374.82 153.90,374.54 153.43,374.82 153.42,375.37 153.90,375.64 154.37,375.37 154.38,374.82"/><polygon points="171.52,375.28 171.42,374.74 170.90,374.55 170.48,374.90 170.58,375.45 171.10,375.63 171.52,375.28 171.42,374.74"/><polygon points="188.65,375.14 188.42,374.64 187.87,374.59 187.55,375.05 187.78,375.54 188.33,375.59 188.65,375.14 188.42,374.64"/><polygon points="205.69,374.83 205.22,374.54 204.73,374.80 204.71,375.35 205.18,375.64 205.67,375.38 205.69,374.83 205.22,374.54"/><polygon points="222.65,374.67 222.11,374.58 221.76,375.00 221.95,375.51 222.49,375.61 222.84,375.19 222.65,374.67 222.11,374.58"/><polygon points="239.68,374.62 239.13,374.61 238.85,375.08 239.12,375.56 239.67,375.57 239.95,375.10 239.68,374.62 239.13,374.61"/><polygon points="256.74,374.60 256.19,374.64 255.95,375.13 256.26,375.59 256.81,375.55 257.05,375.05 256.74,374.60 256.19,374.64"/><polygon points="273.84,374.60 273.29,374.64 273.05,375.13 273.36,375.59 273.91,375.55 274.15,375.05 273.84,374.60 273.29,374.64"/><polygon points="290.92,374.59 290.37,374.65 290.15,375.16 290.48,375.60 291.03,375.53 291.25,375.03 290.92,374.59 290.37,374.65"/><polygon points="308.35,375.09 308.07,374.62 307.52,374.62 307.25,375.09 307.52,375.57 308.07,375.57 308.35,375.09 308.07,374.62"/><polygon points="325.45,375.09 325.17,374.62 324.62,374.62 324.35,375.09 324.62,375.57 325.17,375.57 325.45,375.09 325.17,374.62"/><polygon points="342.22,374.59 341.68,374.65 341.45,375.15 341.78,375.60 342.32,375.54 342.55,375.04 342.22,374.59 341.68,374.65"/><polygon points="359.33,374.59 358.78,374.65 358.55,375.15 358.87,375.59 359.42,375.54 359.65,375.04 359.33,374.59 358.78,374.65"/><polygon points="376.43,374.59 375.88,374.65 375.65,375.15 375.97,375.59 376.52,375.54 376.75,375.04 376.43,374.59 375.88,374.65"/><polygon points="393.54,374.60 392.99,374.64 392.75,375.13 393.06,375.59 393.61,375.55 393.85,375.05 393.54,374.60 392.99,374.64"/><polygon points="410.65,374.60 410.10,374.63 409.85,375.13 410.15,375.58 410.70,375.55 410.95,375.06 410.65,374.60 410.10,374.63"/><polygon points="427.76,374.61 427.21,374.63 426.95,375.11 427.24,375.58 427.79,375.56 428.05,375.07 427.76,374.61 427.21,374.63"/><polygon points="444.87,374.62 444.32,374.62 444.05,375.09 444.32,375.57 444.87,375.57 445.15,375.09 444.87,374.62 444.32,374.62"/><polygon points="461.97,374.61 461.42,374.62 461.15,375.10 461.43,375.57 461.98,375.56 462.25,375.08 461.97,374.61 461.42,374.62"/><polygon points="479.07,374.61 478.52,374.62 478.25,375.10 478.53,375.57 479.08,375.56 479.35,375.08 479.07,374.61 478.52,374.62"/><polygon points="496.18,374.62 495.63,374.61 495.35,375.08 495.62,375.56 496.17,375.57 496.45,375.10 496.18,374.62 495.63,374.61"/><polygon points="513.27,374.62 512.73,374.62 512.45,375.09 512.73,375.57 513.27,375.57 513.55,375.09 513.27,374.62 512.73,374.62"/><polygon points="530.38,374.62 529.83,374.61 529.55,375.08 529.82,375.56 530.37,375.57 530.65,375.10 530.38,374.62 529.83,374.61"/><polygon points="547.47,374.62 546.92,374.62 546.65,375.09 546.92,375.57 547.47,375.57 547.75,375.09 547.47,374.62 546.92,374.62"/><polygon points="564.57,374.62 564.02,374.62 563.75,375.09 564.02,375.57 564.57,375.57 564.85,375.09 564.57,374.62 564.02,374.62"/><polygon points="68.90,388.60 68.85,388.05 68.36,387.81 67.90,388.12 67.95,388.67 68.44,388.91 68.90,388.60 68.85,388.05"/><polygon points="85.99,388.61 85.96,388.06 85.47,387.81 85.01,388.11 85.04,388.66 85.53,388.91 85.99,388.61 85.96,388.06"/><polygon points="103.08,388.64 103.08,388.09 102.60,387.81 102.12,388.09 102.12,388.64 102.60,388.91 103.08,388.64 103.08,388.09"/><polygon points="120.18,388.63 120.17,388.08 119.70,387.81 119.22,388.09 119.23,388.64 119.70,388.91 120.18,388.63 120.17,388.08"/><polygon points="137.27,388.65 137.28,388.10 136.82,387.81 136.33,388.07 136.32,388.62 136.78,388.91 137.27,388.65 137.28,388.10"/><polygon points="154.37,388.64 154.38,388.09 153.90,387.81 153.43,388.08 153.42,388.63 153.90,388.91 154.37,388.64 154.38,388.09"/><polygon points="171.52,388.55 171.42,388.01 170.90,387.82 170.48,388.17 170.58,388.72 171.10,388.90 171.52,388.55 171.42,388.01"/><polygon points="188.65,388.41 188.42,387.91 187.87,387.86 187.55,388.31 187.78,388.81 188.33,388.86 188.65,388.41 188.42,387.91"/><polygon points="205.69,388.10 205.22,387.81 204.73,388.07 204.71,388.62 205.18,388.91 205.67,388.65 205.69,388.10 205.22,387.81"/><polygon points="222.65,387.94 222.11,387.85 221.76,388.27 221.95,388.78 222.49,388.88 222.84,388.46 222.65,387.94 222.11,387.85"/><polygon points="239.68,387.89 239.13,387.88 238.85,388.35 239.12,388.83 239.67,388.84 239.95,388.37 239.68,387.89 239.13,387.88"/><polygon points="256.74,387.87 256.19,387.91 255.95,388.40 256.26,388.86 256.81,388.82 257.05,388.32 256.74,387.87 256.19,387.91"/><polygon points="273.84,387.87 273.29,387.91 273.05,388.40 273.36,388.86 273.91,388.82 274.15,388.32 273.84,387.87 273.29,387.91"/><polygon points="290.92,387.86 290.37,387.92 290.15,388.43 290.48,388.87 291.03,388.80 291.25,388.30 290.92,387.86 290.37,387.92"/><polygon points="308.35,388.36 308.07,387.89 307.52,387.89 307.25,388.36 307.52,388.84 308.07,388.84 308.35,388.36 308.07,387.89"/><polygon points="325.45,388.36 325.17,387.89 324.62,387.89 324.35,388.36 324.62,388.84 325.17,388.84 325.45,388.36 325.17,387.89"/><polygon points="342.22,387.86 341.68,387.92 341.45,388.42 341.78,388.86 342.32,388.81 342.55,388.30 342.22,387.86 341.68,387.92"/><polygon points="359.33,387.86 358.78,387.91 358.55,388.42 358.87,388.86 359.42,388.81 359.65,388.31 359.33,387.86 358.78,387.91"/><polygon points="376.43,387.86 375.88,387.92 375.65,388.42 375.97,388.86 376.52,388.81 376.75,388.31 376.43,387.86 375.88,387.92"/><polygon points="393.54,387.87 392.99,387.91 392.75,388.40 393.06,388.86 393.61,388.82 393.85,388.32 393.54,387.87 392.99,387.91"/><polygon points="410.65,387.87 410.10,387.90 409.85,388.39 410.15,388.85 410.70,388.82 410.95,388.33 410.65,387.87 410.10,387.90"/><polygon points="427.76,387.88 427.21,387.90 426.95,388.38 427.24,388.85 427.79,388.83 428.05,388.34 427.76,387.88 427.21,387.90"/><polygon points="444.87,387.89 444.32,387.89 444.05,388.36 444.32,388.84 444.87,388.84 445.15,388.36 444.87,387.89 444.32,387.89"/><polygon points="461.97,387.88 461.42,387.89 461.15,388.37 461.43,388.84 461.98,388.83 462.25,388.35 461.97,387.88 461.42,387.89"/><polygon points="479.07,387.88 478.52,387.89 478.25,388.37 478.53,388.84 479.08,388.83 479.35,388.35 479.07,387.88 478.52,387.89"/><polygon points="496.18,387.89 495.63,387.88 495.35,388.35 495.62,388.83 496.17,388.84 496.45,388.37 496.18,387.89 495.63,387.88"/><polygon points="513.27,387.89 512.73,387.89 512.45,388.36 512.73,388.84 513.27,388.84 513.55,388.36 513.27,387.89 512.73,387.89"/><polygon points="530.38,387.89 529.83,387.88 529.55,388.35 529.82,388.83 530.37,388.84 530.65,388.37 530.38,387.89 529.83,387.88"/><polygon points="547.47,387.89 546.92,387.89 546.65,388.36 546.92,388.84 547.47,388.84 547.75,388.36 547.47,387.89 546.92,387.89"/><polygon points="564.57,387.89 564.02,387.89 563.75,388.36 564.02,388.84 564.57,388.84 564.85,388.36 564.57,387.89 564.02,387.89"/><polygon points="68.90,401.87 68.85,401.32 68.36,401.08 67.90,401.39 67.95,401.94 68.44,402.18 68.90,401.87 68.85,401.32"/><polygon points="85.99,401.88 85.96,401.33 85.47,401.08 85.01,401.38 85.04,401.93 85.53,402.18 85.99,401.88 85.96,401.33"/><polygon points="103.08,401.91 103.08,401.36 102.60,401.08 102.12,401.36 102.12,401.91 102.60,402.18 103.08,401.91 103.08,401.36"/><polygon points="120.18,401.90 120.17,401.35 119.70,401.08 119.22,401.36 119.23,401.91 119.70,402.18 120.18,401.90 120.17,401.35"/><polygon points="137.27,401.92 137.28,401.37 136.82,401.08 136.33,401.34 136.32,401.89 136.78,402.18 137.27,401.92 137.28,401.37"/><polygon points="154.37,401.91 154.38,401.36 153.90,401.08 153.43,401.35 153.42,401.90 153.90,402.18 154.37,401.91 154.38,401.36"/><polygon points="171.52,401.82 171.42,401.28 170.90,401.09 170.48,401.44 170.58,401.98 171.10,402.17 171.52,401.82 171.42,401.28"/><polygon points="188.65,401.68 188.42,401.18 187.87,401.13 187.55,401.58 187.78,402.08 188.33,402.13 188.65,401.68 188.42,401.18"/><polygon points="205.69,401.37 205.22,401.08 204.73,401.34 204.71,401.89 205.18,402.18 205.67,401.92 205.69,401.37 205.22,401.08"/><polygon points="222.65,401.21 222.11,401.11 221.76,401.54 221.95,402.05 222.49,402.15 222.84,401.73 222.65,401.21 222.11,401.11"/><polygon points="239.68,401.16 239.13,401.15 238.85,401.62 239.12,402.10 239.67,402.11 239.95,401.64 239.68,401.16 239.13,401.15"/><polygon points="256.74,401.14 256.19,401.18 255.95,401.67 256.26,402.13 256.81,402.09 257.05,401.59 256.74,401.14 256.19,401.18"/><polygon points="273.84,401.14 273.29,401.18 273.05,401.67 273.36,402.13 273.91,402.09 274.15,401.59 273.84,401.14 273.29,401.18"/><polygon points="290.92,401.13 290.37,401.19 290.15,401.69 290.48,402.14 291.03,402.07 291.25,401.57 290.92,401.13 290.37,401.19"/><polygon points="308.35,401.63 308.07,401.15 307.52,401.15 307.25,401.63 307.52,402.11 308.07,402.11 308.35,401.63 308.07,401.15"/><polygon points="325.45,401.63 325.17,401.15 324.62,401.15 324.35,401.63 324.62,402.11 325.17,402.11 325.45,401.63 325.17,401.15"/><polygon points="342.22,401.13 341.68,401.19 341.45,401.69 341.78,402.13 342.32,402.08 342.55,401.57 342.22,401.13 341.68,401.19"/><polygon points="359.33,401.13 358.78,401.18 358.55,401.68 358.87,402.13 359.42,402.08 359.65,401.58 359.33,401.13 358.78,401.18"/><polygon points="376.43,401.13 375.88,401.18 375.65,401.69 375.97,402.13 376.52,402.08 376.75,401.58 376.43,401.13 375.88,401.18"/><polygon points="393.54,401.14 392.99,401.18 392.75,401.67 393.06,402.13 393.61,402.09 393.85,401.59 393.54,401.14 392.99,401.18"/><polygon points="410.65,401.14 410.10,401.17 409.85,401.66 410.15,402.12 410.70,402.09 410.95,401.60 410.65,401.14 410.10,401.17"/><polygon points="427.76,401.15 427.21,401.16 426.95,401.65 427.24,402.12 427.79,402.10 428.05,401.61 427.76,401.15 427.21,401.16"/><polygon points="444.87,401.15 444.32,401.15 444.05,401.63 444.32,402.11 444.87,402.11 445.15,401.63 444.87,401.15 444.32,401.15"/><polygon points="461.97,401.15 461.42,401.16 461.15,401.64 461.43,402.11 461.98,402.10 462.25,401.62 461.97,401.15 461.42,401.16"/><polygon points="479.07,401.15 478.52,401.16 478.25,401.64 478.53,402.11 479.08,402.10 479.35,401.62 479.07,401.15 478.52,401.16"/><polygon points="496.18,401.16 495.63,401.15 495.35,401.62 495.62,402.10 496.17,402.11 496.45,401.64 496.18,401.16 495.63,401.15"/><polygon points="513.27,401.15 512.73,401.15 512.45,401.63 512.73,402.11 513.27,402.11 513.55,401.63 513.27,401.15 512.73,401.15"/><polygon points="530.38,401.16 529.83,401.15 529.55,401.62 529.82,402.10 530.37,402.11 530.65,401.64 530.38,401.16 529.83,401.15"/><polygon points="547.47,401.15 546.92,401.15 546.65,401.63 546.92,402.11 547.47,402.11 547.75,401.63 547.47,401.15 546.92,401.15"/><polygon points="564.57,401.15 564.02,401.15 563.75,401.63 564.02,402.11 564.57,402.11 564.85,401.63 564.57,401.15 564.02,401.15"/><polygon points="68.90,415.14 68.85,414.59 68.36,414.35 67.90,414.66 67.95,415.21 68.44,415.45 68.90,415.14 68.85,414.59"/><polygon points="85.99,415.15 85.96,414.60 85.47,414.35 85.01,414.65 85.04,415.20 85.53,415.45 85.99,415.15 85.96,414.60"/><polygon points="103.08,415.17 103.08,414.62 102.60,414.35 102.12,414.62 102.12,415.17 102.60,415.45 103.08,415.17 103.08,414.62"/><polygon points="120.18,415.17 120.17,414.62 119.70,414.35 119.22,414.63 119.23,415.18 119.70,415.45 120.18,415.17 120.17,414.62"/><polygon points="137.27,415.19 137.28,414.64 136.82,414.35 136.33,414.61 136.32,415.16 136.78,415.45 137.27,415.19 137.28,414.64"/><polygon points="154.37,415.18 154.38,414.63 153.90,414.35 153.43,414.62 153.42,415.17 153.90,415.45 154.37,415.18 154.38,414.63"/><polygon points="171.52,415.09 171.42,414.55 170.90,414.36 170.48,414.71 170.58,415.25 171.10,415.44 171.52,415.09 171.42,414.55"/><polygon points="188.65,414.95 188.42,414.45 187.87,414.40 187.55,414.85 187.78,415.35 188.33,415.40 188.65,414.95 188.42,414.45"/><polygon points="205.69,414.64 205.22,414.35 204.73,414.61 204.71,415.16 205.18,415.45 205.67,415.19 205.69,414.64 205.22,414.35"/><polygon points="222.65,414.48 222.11,414.38 221.76,414.80 221.95,415.32 222.49,415.42 222.84,415.00 222.65,414.48 222.11,414.38"/><polygon points="239.68,414.43 239.13,414.42 238.85,414.89 239.12,415.37 239.67,415.38 239.95,414.91 239.68,414.43 239.13,414.42"/><polygon points="256.74,414.41 256.19,414.44 255.95,414.94 256.26,415.39 256.81,415.36 257.05,414.86 256.74,414.41 256.19,414.44"/><polygon points="273.84,414.41 273.29,414.44 273.05,414.94 273.36,415.39 273.91,415.36 274.15,414.86 273.84,414.41 273.29,414.44"/><polygon points="290.92,414.40 290.37,414.46 290.15,414.96 290.48,415.40 291.03,415.34 291.25,414.84 290.92,414.40 290.37,414.46"/><polygon points="308.35,414.90 308.07,414.42 307.52,414.42 307.25,414.90 307.52,415.38 308.07,415.38 308.35,414.90 308.07,414.42"/><polygon points="325.45,414.90 325.17,414.42 324.62,414.42 324.35,414.90 324.62,415.38 325.17,415.38 325.45,414.90 325.17,414.42"/><polygon points="342.22,414.40 341.68,414.46 341.45,414.96 341.78,415.40 342.32,415.34 342.55,414.84 342.22,414.40 341.68,414.46"/><polygon points="359.33,414.40 358.78,414.45 358.55,414.95 358.87,415.40 359.42,415.35 359.65,414.85 359.33,414.40 358.78,414.45"/><polygon points="376.43,414.40 375.88,414.45 375.65,414.96 375.97,415.40 376.52,415.35 376.75,414.84 376.43,414.40 375.88,414.45"/><polygon points="393.54,414.41 392.99,414.44 392.75,414.94 393.06,415.39 393.61,415.36 393.85,414.86 393.54,414.41 392.99,414.44"/><polygon points="410.65,414.41 410.10,414.44 409.85,414.93 410.15,415.39 410.70,415.36 410.95,414.87 410.65,414.41 410.10,414.44"/><polygon points="427.76,414.41 427.21,414.43 426.95,414.92 427.24,415.39 427.79,415.37 428.05,414.88 427.76,414.41 427.21,414.43"/><polygon points="444.87,414.42 444.32,414.42 444.05,414.90 444.32,415.38 444.87,415.38 445.15,414.90 444.87,414.42 444.32,414.42"/><polygon points="461.97,414.42 461.42,414.43 461.15,414.91 461.43,415.38 461.98,415.37 462.25,414.89 461.97,414.42 461.42,414.43"/><polygon points="479.07,414.42 478.52,414.43 478.25,414.91 478.53,415.38 479.08,415.37 479.35,414.89 479.07,414.42 478.52,414.43"/><polygon points="496.18,414.43 495.63,414.42 495.35,414.89 495.62,415.37 496.17,415.38 496.45,414.91 496.18,414.43 495.63,414.42"/><polygon points="513.27,414.42 512.73,414.42 512.45,414.90 512.73,415.38 513.27,415.38 513.55,414.90 513.27,414.42 512.73,414.42"/><polygon points="530.38,414.43 529.83,414.42 529.55,414.89 529.82,415.37 530.37,415.38 530.65,414.91 530.38,414.43 529.83,414.42"/><polygon points="547.47,414.42 546.92,414.42 546.65,414.90 546.92,415.38 547.47,415.38 547.75,414.90 547.47,414.42 546.92,414.42"/><polygon points="564.57,414.42 564.02,414.42 563.75,414.90 564.02,415.38 564.57,415.38 564.85,414.90 564.57,414.42 564.02,414.42"/></g>
</g>
<rect x="68.50" y="30.50" width="496.00" height="385.00" fill="none" stroke="#000" stroke-width="1.10"/>
<rect x="595.50" y="372.32" width="19.00" height="43.18" fill="#76508e"/>
<rect x="595.50" y="329.54" width="19.00" height="43.18" fill="#736ba2"/>
<rect x="595.50" y="286.77" width="19.00" height="43.18" fill="#6983a9"/>
<rect x="595.50" y="243.99" width="19.00" height="43.18" fill="#6098aa"/>
<rect x="595.50" y="201.21" width="19.00" height="43.18" fill="#58aca9"/>
<rect x="595.50" y="158.43" width="19.00" height="43.18" fill="#5bc0a2"/>
<rect x="595.50" y="115.66" width="19.00" height="43.18" fill="#7ad290"/>
<rect x="595.50" y="72.88" width="19.00" height="43.18" fill="#ace172"/>
<rect x="595.50" y="30.10" width="19.00" height="42.78" fill="#e3ea52"/>
<rect x="595.50" y="30.50" width="19.00" height="385.00" fill="none" stroke="#000" stroke-width="1.10"/>
<path d="M68.50 415.50V420.40M130.50 415.50V420.40M192.50 415.50V420.40M254.50 415.50V420.40M316.50 415.50V420.40M378.50 415.50V420.40M440.50 415.50V420.40M502.50 415.50V420.40M564.50 415.50V420.40M68.50 389.50H63.60M68.50 338.50H63.60M68.50 286.50H63.60M68.50 235.50H63.60M68.50 184.50H63.60M68.50 133.50H63.60M68.50 81.50H63.60M68.50 30.50H63.60M614.50 415.50H619.40M614.50 372.50H619.40M614.50 329.50H619.40M614.50 287.50H619.40M614.50 244.50H619.40M614.50 201.50H619.40M614.50 158.50H619.40M614.50 116.50H619.40M614.50 73.50H619.40M614.50 30.50H619.40" stroke="#000" stroke-width="1.10" fill="none"/>
<g style="font-family:'Liberation Sans',sans-serif" fill="#000">
<text x="68.70" y="436.40" font-size="14.40" text-anchor="middle" textLength="30.20" lengthAdjust="spacingAndGlyphs">15.0</text>
<text x="130.69" y="436.40" font-size="14.40" text-anchor="middle" textLength="30.20" lengthAdjust="spacingAndGlyphs">17.5</text>
<text x="192.68" y="436.40" font-size="14.40" text-anchor="middle" textLength="30.20" lengthAdjust="spacingAndGlyphs">20.0</text>
<text x="254.66" y="436.40" font-size="14.40" text-anchor="middle" textLength="30.20" lengthAdjust="spacingAndGlyphs">22.5</text>
<text x="316.65" y="436.40" font-size="14.40" text-anchor="middle" textLength="30.20" lengthAdjust="spacingAndGlyphs">25.0</text>
<text x="378.64" y="436.40" font-size="14.40" text-anchor="middle" textLength="30.20" lengthAdjust="spacingAndGlyphs">27.5</text>
<text x="440.62" y="436.40" font-size="14.40" text-anchor="middle" textLength="30.20" lengthAdjust="spacingAndGlyphs">30.0</text>
<text x="502.61" y="436.40" font-size="14.40" text-anchor="middle" textLength="30.20" lengthAdjust="spacingAndGlyphs">32.5</text>
<text x="564.60" y="436.40" font-size="14.40" text-anchor="middle" textLength="30.20" lengthAdjust="spacingAndGlyphs">35.0</text>
<text x="59.00" y="395.05" font-size="14.40" text-anchor="end" textLength="8.40" lengthAdjust="spacingAndGlyphs">3</text>
<text x="59.00" y="343.74" font-size="14.40" text-anchor="end" textLength="8.40" lengthAdjust="spacingAndGlyphs">4</text>
<text x="59.00" y="292.43" font-size="14.40" text-anchor="end" textLength="8.40" lengthAdjust="spacingAndGlyphs">5</text>
<text x="59.00" y="241.13" font-size="14.40" text-anchor="end" textLength="8.40" lengthAdjust="spacingAndGlyphs">6</text>
<text x="59.00" y="189.82" font-size="14.40" text-anchor="end" textLength="8.40" lengthAdjust="spacingAndGlyphs">7</text>
<text x="59.00" y="138.51" font-size="14.40" text-anchor="end" textLength="8.40" lengthAdjust="spacingAndGlyphs">8</text>
<text x="59.60" y="87.21" font-size="14.40" text-anchor="end" textLength="8.40" lengthAdjust="spacingAndGlyphs">9</text>
<text x="57.90" y="36.00" font-size="14.40" text-anchor="end" textLength="16.60" lengthAdjust="spacingAndGlyphs">10</text>
<text x="625.00" y="421.00" font-size="14.40" text-anchor="start" textLength="16.60" lengthAdjust="spacingAndGlyphs">12</text>
<text x="625.00" y="378.22" font-size="14.40" text-anchor="start" textLength="16.60" lengthAdjust="spacingAndGlyphs">16</text>
<text x="625.00" y="335.44" font-size="14.40" text-anchor="start" textLength="16.60" lengthAdjust="spacingAndGlyphs">20</text>
<text x="625.00" y="292.67" font-size="14.40" text-anchor="start" textLength="16.60" lengthAdjust="spacingAndGlyphs">24</text>
<text x="625.00" y="249.89" font-size="14.40" text-anchor="start" textLength="16.60" lengthAdjust="spacingAndGlyphs">28</text>
<text x="625.00" y="207.11" font-size="14.40" text-anchor="start" textLength="16.60" lengthAdjust="spacingAndGlyphs">32</text>
<text x="625.00" y="164.33" font-size="14.40" text-anchor="start" textLength="16.60" lengthAdjust="spacingAndGlyphs">36</text>
<text x="625.00" y="121.56" font-size="14.40" text-anchor="start" textLength="16.60" lengthAdjust="spacingAndGlyphs">40</text>
<text x="625.00" y="78.78" font-size="14.40" text-anchor="start" textLength="16.60" lengthAdjust="spacingAndGlyphs">44</text>
<text x="625.00" y="36.00" font-size="14.40" text-anchor="start" textLength="16.60" lengthAdjust="spacingAndGlyphs">48</text>
<text x="316.60" y="22.10" font-size="16.80" text-anchor="middle" textLength="144.50" lengthAdjust="spacingAndGlyphs">reservation wage</text>
<text x="316.4" y="460.6" font-size="23" text-anchor="middle" font-style="italic" textLength="14.2" lengthAdjust="spacingAndGlyphs">&#956;</text>
<g transform="translate(28.4,223.5) rotate(-90)"><text x="0" y="0" font-size="25.5" text-anchor="middle" font-style="italic">&#963;<tspan font-size="17" dy="-9.5">2</tspan></text></g>
</g>
</svg>
</body></html>
